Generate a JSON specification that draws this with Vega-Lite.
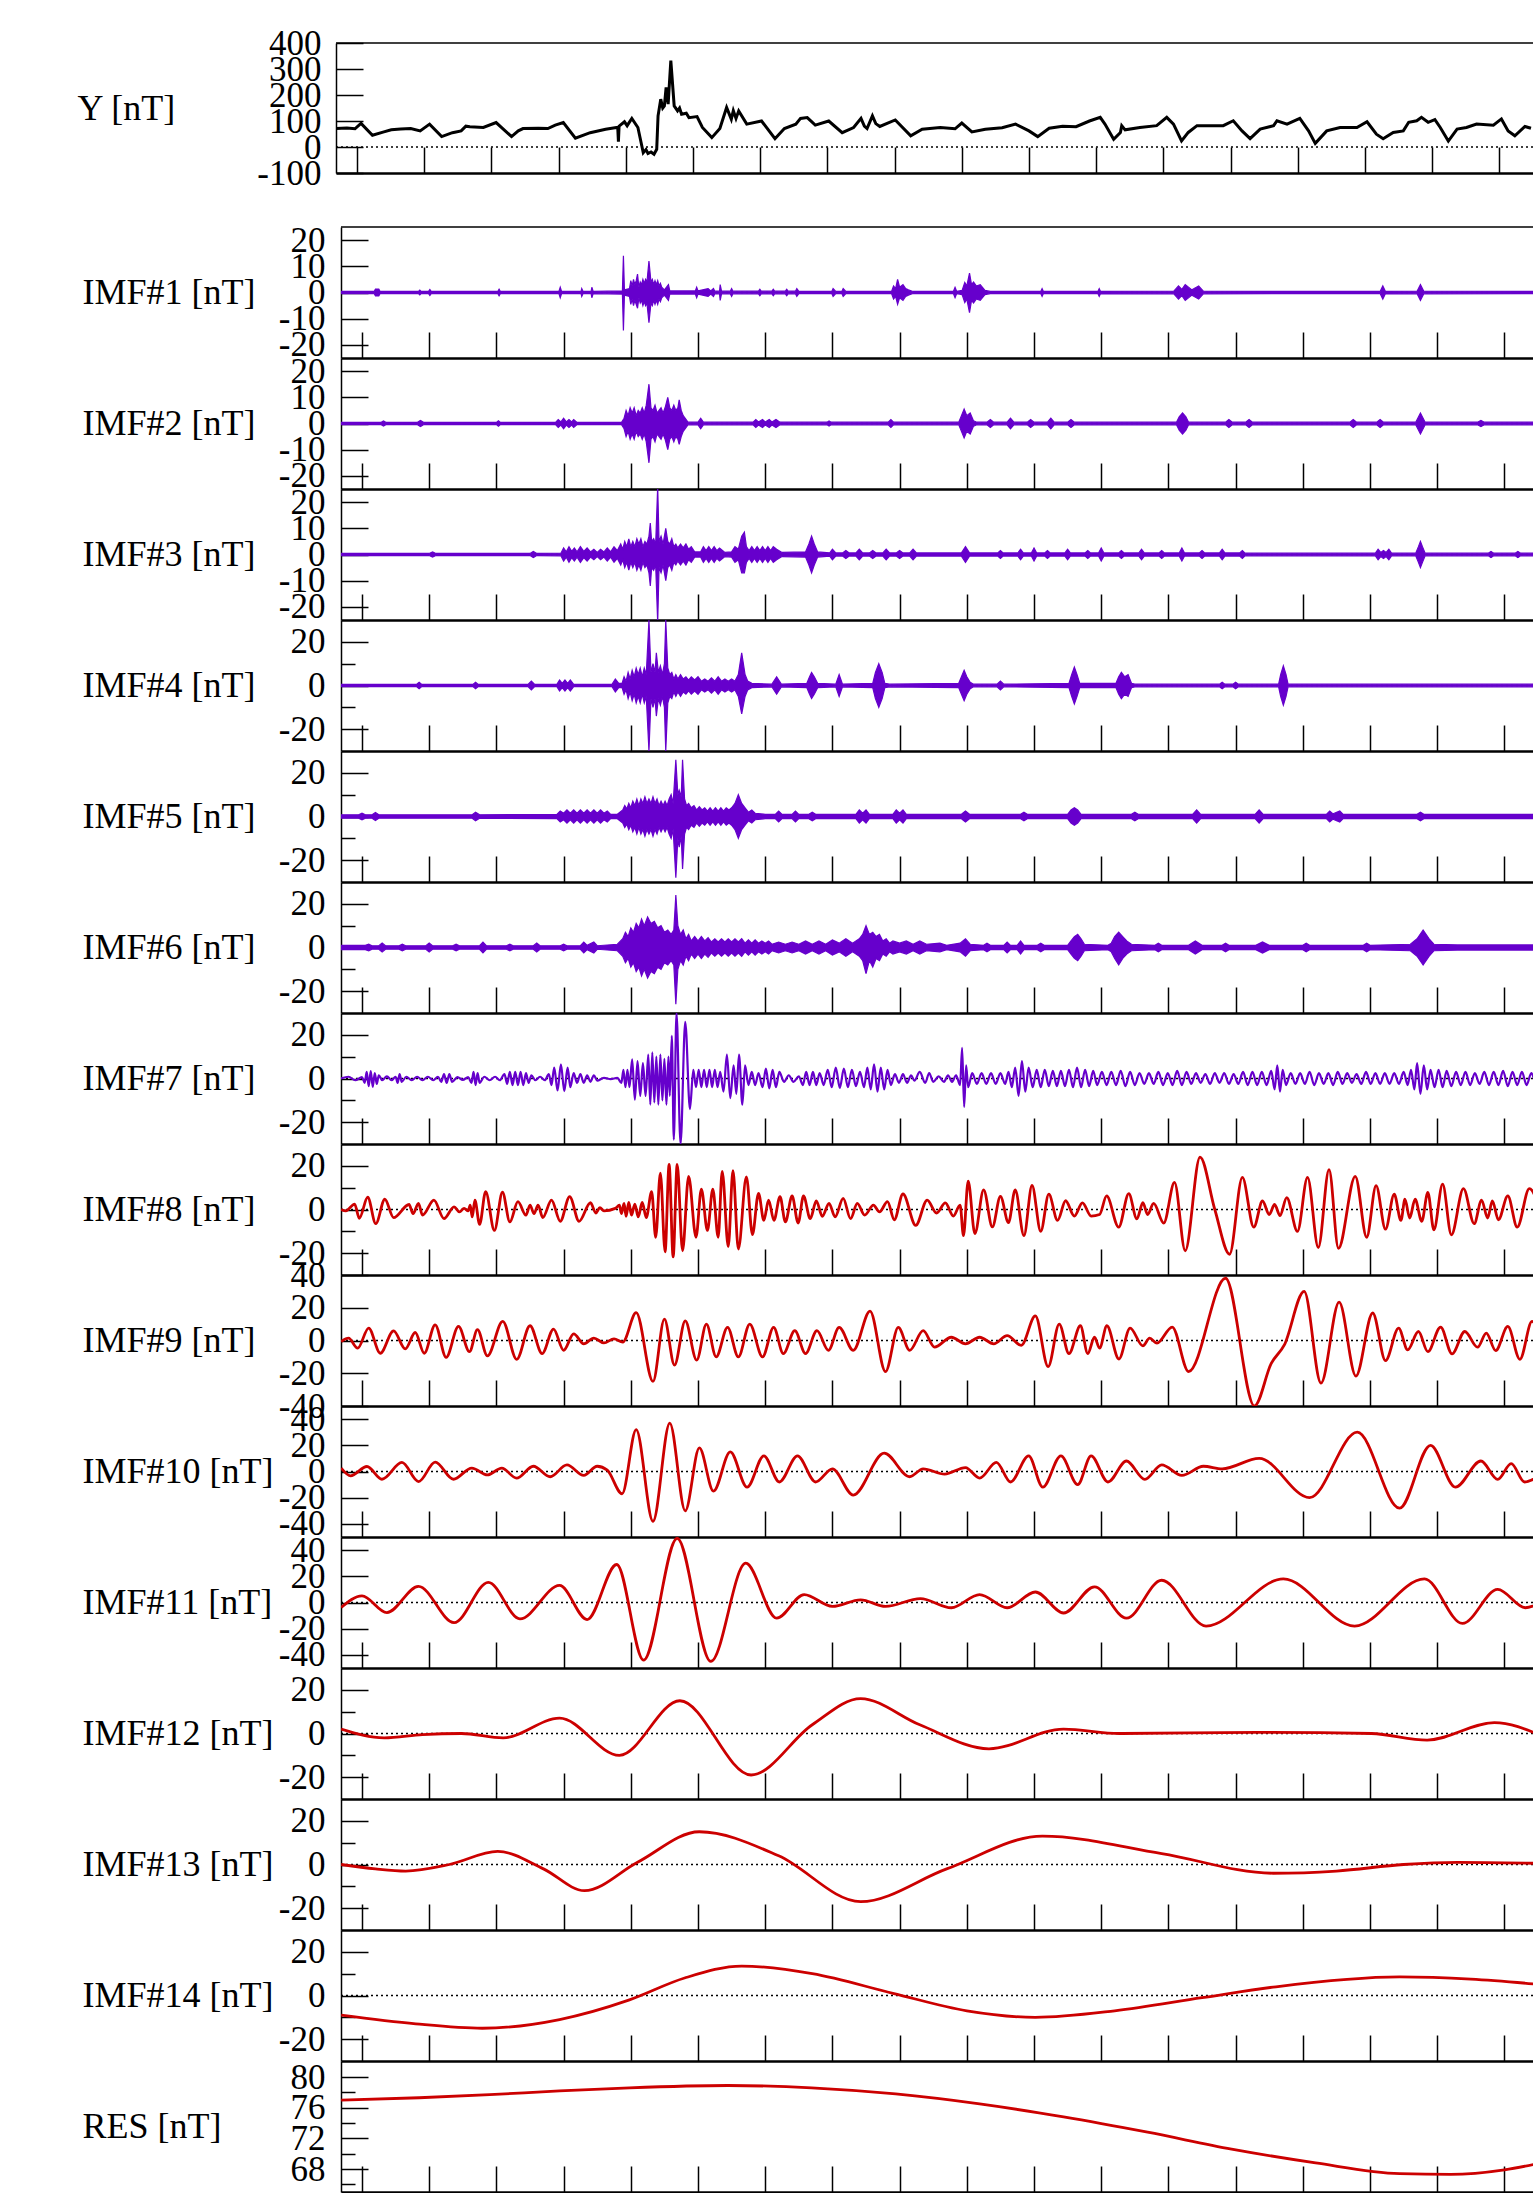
{
"$schema":"https://vega.github.io/schema/vega-lite/v6.json",
"padding":{"left":77,"top":26,"right":0,"bottom":0},
"background":"white",
"config":{
 "view":{"stroke":null},
 "axis":{"labelFont":"Liberation Serif","titleFont":"Liberation Serif","labelFontSize":35,"titleFontSize":36,"titleFontWeight":"normal","labelColor":"#000","titleColor":"#000","domainColor":"#000","tickColor":"#000","domainWidth":1.5,"tickWidth":1.5,"grid":false,"labelOverlap":false,"titleAngle":0,"titleAlign":"left","titleBaseline":"middle","titlePadding":0,"labelExpr":"replace(datum.label,'−','-')"}
},
"align":"none",
"spacing":32,
"vconcat":[
{"width":1192,"height":130,
 "layer":[
  {"data":{"values":[{}]},"mark":{"type":"rule","strokeDash":[2,3],"strokeWidth":1.5,"color":"#000"},"encoding":{"x":{"datum":-0.3125,"type":"quantitative","axis":{"orient":"bottom","values":[0,1,2,3,4,5,6,7,8,9,10,11,12,13,14,15,16,17],"tickSize":-26,"labels":false,"title":null,"domainWidth":2.5}},"x2":{"datum":17.5},"y":{"datum":0,"type":"quantitative","scale":{"domain":[-100,400],"nice":false,"zero":false},"axis":null}}},
  {"data":{"values":[{}]},"mark":{"type":"rule","strokeWidth":1.5,"color":"#000"},"encoding":{"x":{"datum":-0.3125,"type":"quantitative","axis":{"orient":"bottom","values":[0,1,2,3,4,5,6,7,8,9,10,11,12,13,14,15,16,17],"tickSize":-26,"labels":false,"title":null,"domainWidth":2.5}},"x2":{"datum":17.5},"y":{"datum":400,"type":"quantitative","scale":{"domain":[-100,400],"nice":false,"zero":false},"axis":null}}},
  {"data":{"name":"y"},"mark":{"type":"line","color":"#000","strokeWidth":3},"encoding":{
    "x":{"field":"t","type":"quantitative","scale":{"domain":[-0.3125,17.5],"range":[-5,1192],"nice":false,"zero":false},"axis":{"orient":"bottom","values":[0,1,2,3,4,5,6,7,8,9,10,11,12,13,14,15,16,17],"tickSize":-26,"labels":false,"title":null,"domainWidth":2.5}},
    "y":{"field":"v","type":"quantitative","scale":{"domain":[-100,400],"nice":false,"zero":false},"axis":{"orient":"left","offset":5,"values":[400,300,200,100,0,-100],"tickSize":-27,"labelPadding":42,"title":"Y [nT]","titleX":-259,"titleY":65}}}}
 ],
 "resolve":{"axis":{"y":"independent"}}
},
{"bounds":"flush","spacing":0,"vconcat":[
 {"width":1192,"height":131,"layer":[
  {"data":{"values":[{}]},"mark":{"type":"rule","strokeDash":[2,3],"strokeWidth":1.5,"color":"#000"},"encoding":{"y":{"datum":0,"type":"quantitative","scale":{"domain":[-25,25],"nice":false,"zero":false},"axis":null}}},
  {"data":{"values":[{}]},"mark":{"type":"rule","strokeWidth":1.5,"color":"#000"},"encoding":{"y":{"datum":25,"type":"quantitative","scale":{"domain":[-25,25],"nice":false,"zero":false},"axis":null}}},
  {"data":{"name":"imf1"},"mark":{"type":"area","color":"#6600CC","stroke":"#6600CC","strokeWidth":1.2,"fillOpacity":1,"clip":true},"encoding":{
    "x":{"field":"t","type":"quantitative","scale":{"domain":[-0.3125,17.425],"nice":false,"zero":false},"axis":{"orient":"bottom","values":[0,1,2,3,4,5,6,7,8,9,10,11,12,13,14,15,16,17],"tickSize":-26,"labels":false,"title":null,"domainWidth":2.5}},
    "y":{"field":"hi","type":"quantitative","scale":{"domain":[-25,25],"nice":false,"zero":false},"axis":{"orient":"left","values":[20,10,0,-10,-20],"tickSize":-27,"labelPadding":43,"title":"IMF#1 [nT]","titleX":-259,"titleY":65.5}},
    "y2":{"field":"lo"}}}
 ],"resolve":{"axis":{"y":"independent"}}},
 {"width":1192,"height":131,"layer":[
  {"data":{"values":[{}]},"mark":{"type":"rule","strokeDash":[2,3],"strokeWidth":1.5,"color":"#000"},"encoding":{"y":{"datum":0,"type":"quantitative","scale":{"domain":[-25,25],"nice":false,"zero":false},"axis":null}}},
  {"data":{"name":"imf2"},"mark":{"type":"area","color":"#6600CC","stroke":"#6600CC","strokeWidth":1.2,"fillOpacity":1,"clip":true},"encoding":{
    "x":{"field":"t","type":"quantitative","scale":{"domain":[-0.3125,17.425],"nice":false,"zero":false},"axis":{"orient":"bottom","values":[0,1,2,3,4,5,6,7,8,9,10,11,12,13,14,15,16,17],"tickSize":-26,"labels":false,"title":null,"domainWidth":2.5}},
    "y":{"field":"hi","type":"quantitative","scale":{"domain":[-25,25],"nice":false,"zero":false},"axis":{"orient":"left","values":[20,10,0,-10,-20],"tickSize":-27,"labelPadding":43,"title":"IMF#2 [nT]","titleX":-259,"titleY":65.5}},
    "y2":{"field":"lo"}}}
 ],"resolve":{"axis":{"y":"independent"}}},
 {"width":1192,"height":131,"layer":[
  {"data":{"values":[{}]},"mark":{"type":"rule","strokeDash":[2,3],"strokeWidth":1.5,"color":"#000"},"encoding":{"y":{"datum":0,"type":"quantitative","scale":{"domain":[-25,25],"nice":false,"zero":false},"axis":null}}},
  {"data":{"name":"imf3"},"mark":{"type":"area","color":"#6600CC","stroke":"#6600CC","strokeWidth":1.2,"fillOpacity":1,"clip":true},"encoding":{
    "x":{"field":"t","type":"quantitative","scale":{"domain":[-0.3125,17.425],"nice":false,"zero":false},"axis":{"orient":"bottom","values":[0,1,2,3,4,5,6,7,8,9,10,11,12,13,14,15,16,17],"tickSize":-26,"labels":false,"title":null,"domainWidth":2.5}},
    "y":{"field":"hi","type":"quantitative","scale":{"domain":[-25,25],"nice":false,"zero":false},"axis":{"orient":"left","values":[20,10,0,-10,-20],"tickSize":-27,"labelPadding":43,"title":"IMF#3 [nT]","titleX":-259,"titleY":65.5}},
    "y2":{"field":"lo"}}}
 ],"resolve":{"axis":{"y":"independent"}}},
 {"width":1192,"height":131,"layer":[
  {"data":{"values":[{}]},"mark":{"type":"rule","strokeDash":[2,3],"strokeWidth":1.5,"color":"#000"},"encoding":{"y":{"datum":0,"type":"quantitative","scale":{"domain":[-30,30],"nice":false,"zero":false},"axis":{"orient":"left","values":[10,-10],"tickSize":-14,"labels":false,"domain":false,"title":null}}}},
  {"data":{"name":"imf4"},"mark":{"type":"area","color":"#6600CC","stroke":"#6600CC","strokeWidth":1.2,"fillOpacity":1,"clip":true},"encoding":{
    "x":{"field":"t","type":"quantitative","scale":{"domain":[-0.3125,17.425],"nice":false,"zero":false},"axis":{"orient":"bottom","values":[0,1,2,3,4,5,6,7,8,9,10,11,12,13,14,15,16,17],"tickSize":-26,"labels":false,"title":null,"domainWidth":2.5}},
    "y":{"field":"hi","type":"quantitative","scale":{"domain":[-30,30],"nice":false,"zero":false},"axis":{"orient":"left","values":[20,0,-20],"tickSize":-27,"labelPadding":43,"title":"IMF#4 [nT]","titleX":-259,"titleY":65.5}},
    "y2":{"field":"lo"}}}
 ],"resolve":{"axis":{"y":"independent"}}},
 {"width":1192,"height":131,"layer":[
  {"data":{"values":[{}]},"mark":{"type":"rule","strokeDash":[2,3],"strokeWidth":1.5,"color":"#000"},"encoding":{"y":{"datum":0,"type":"quantitative","scale":{"domain":[-30,30],"nice":false,"zero":false},"axis":{"orient":"left","values":[10,-10],"tickSize":-14,"labels":false,"domain":false,"title":null}}}},
  {"data":{"name":"imf5"},"mark":{"type":"area","color":"#6600CC","stroke":"#6600CC","strokeWidth":1.2,"fillOpacity":1,"clip":true},"encoding":{
    "x":{"field":"t","type":"quantitative","scale":{"domain":[-0.3125,17.425],"nice":false,"zero":false},"axis":{"orient":"bottom","values":[0,1,2,3,4,5,6,7,8,9,10,11,12,13,14,15,16,17],"tickSize":-26,"labels":false,"title":null,"domainWidth":2.5}},
    "y":{"field":"hi","type":"quantitative","scale":{"domain":[-30,30],"nice":false,"zero":false},"axis":{"orient":"left","values":[20,0,-20],"tickSize":-27,"labelPadding":43,"title":"IMF#5 [nT]","titleX":-259,"titleY":65.5}},
    "y2":{"field":"lo"}}}
 ],"resolve":{"axis":{"y":"independent"}}},
 {"width":1192,"height":131,"layer":[
  {"data":{"values":[{}]},"mark":{"type":"rule","strokeDash":[2,3],"strokeWidth":1.5,"color":"#000"},"encoding":{"y":{"datum":0,"type":"quantitative","scale":{"domain":[-30,30],"nice":false,"zero":false},"axis":{"orient":"left","values":[10,-10],"tickSize":-14,"labels":false,"domain":false,"title":null}}}},
  {"data":{"name":"imf6"},"mark":{"type":"area","color":"#6600CC","stroke":"#6600CC","strokeWidth":1.2,"fillOpacity":1,"clip":true},"encoding":{
    "x":{"field":"t","type":"quantitative","scale":{"domain":[-0.3125,17.425],"nice":false,"zero":false},"axis":{"orient":"bottom","values":[0,1,2,3,4,5,6,7,8,9,10,11,12,13,14,15,16,17],"tickSize":-26,"labels":false,"title":null,"domainWidth":2.5}},
    "y":{"field":"hi","type":"quantitative","scale":{"domain":[-30,30],"nice":false,"zero":false},"axis":{"orient":"left","values":[20,0,-20],"tickSize":-27,"labelPadding":43,"title":"IMF#6 [nT]","titleX":-259,"titleY":65.5}},
    "y2":{"field":"lo"}}}
 ],"resolve":{"axis":{"y":"independent"}}},
 {"width":1192,"height":131,"layer":[
  {"data":{"values":[{}]},"mark":{"type":"rule","strokeDash":[2,3],"strokeWidth":1.5,"color":"#000"},"encoding":{"y":{"datum":0,"type":"quantitative","scale":{"domain":[-30,30],"nice":false,"zero":false},"axis":{"orient":"left","values":[10,-10],"tickSize":-14,"labels":false,"domain":false,"title":null}}}},
  {"data":{"name":"imf7"},"mark":{"type":"line","color":"#6600CC","strokeWidth":2.2,"interpolate":"monotone","clip":true},"encoding":{
    "x":{"field":"t","type":"quantitative","scale":{"domain":[-0.3125,17.425],"nice":false,"zero":false},"axis":{"orient":"bottom","values":[0,1,2,3,4,5,6,7,8,9,10,11,12,13,14,15,16,17],"tickSize":-26,"labels":false,"title":null,"domainWidth":2.5}},
    "y":{"field":"v","type":"quantitative","scale":{"domain":[-30,30],"nice":false,"zero":false},"axis":{"orient":"left","values":[20,0,-20],"tickSize":-27,"labelPadding":43,"title":"IMF#7 [nT]","titleX":-259,"titleY":65.5}}}}
 ],"resolve":{"axis":{"y":"independent"}}},
 {"width":1192,"height":131,"layer":[
  {"data":{"values":[{}]},"mark":{"type":"rule","strokeDash":[2,3],"strokeWidth":1.5,"color":"#000"},"encoding":{"y":{"datum":0,"type":"quantitative","scale":{"domain":[-30,30],"nice":false,"zero":false},"axis":{"orient":"left","values":[10,-10],"tickSize":-14,"labels":false,"domain":false,"title":null}}}},
  {"data":{"name":"imf8"},"mark":{"type":"line","color":"#CC0000","strokeWidth":2.8,"interpolate":"monotone","clip":true},"encoding":{
    "x":{"field":"t","type":"quantitative","scale":{"domain":[-0.3125,17.425],"nice":false,"zero":false},"axis":{"orient":"bottom","values":[0,1,2,3,4,5,6,7,8,9,10,11,12,13,14,15,16,17],"tickSize":-26,"labels":false,"title":null,"domainWidth":2.5}},
    "y":{"field":"v","type":"quantitative","scale":{"domain":[-30,30],"nice":false,"zero":false},"axis":{"orient":"left","values":[20,0,-20],"tickSize":-27,"labelPadding":43,"title":"IMF#8 [nT]","titleX":-259,"titleY":65.5}}}}
 ],"resolve":{"axis":{"y":"independent"}}},
 {"width":1192,"height":131,"layer":[
  {"data":{"values":[{}]},"mark":{"type":"rule","strokeDash":[2,3],"strokeWidth":1.5,"color":"#000"},"encoding":{"y":{"datum":0,"type":"quantitative","scale":{"domain":[-40,40],"nice":false,"zero":false},"axis":null}}},
  {"data":{"name":"imf9"},"mark":{"type":"line","color":"#CC0000","strokeWidth":2.8,"interpolate":"monotone","clip":true},"encoding":{
    "x":{"field":"t","type":"quantitative","scale":{"domain":[-0.3125,17.425],"nice":false,"zero":false},"axis":{"orient":"bottom","values":[0,1,2,3,4,5,6,7,8,9,10,11,12,13,14,15,16,17],"tickSize":-26,"labels":false,"title":null,"domainWidth":2.5}},
    "y":{"field":"v","type":"quantitative","scale":{"domain":[-40,40],"nice":false,"zero":false},"axis":{"orient":"left","values":[40,20,0,-20,-40],"tickSize":-27,"labelPadding":43,"title":"IMF#9 [nT]","titleX":-259,"titleY":65.5}}}}
 ],"resolve":{"axis":{"y":"independent"}}},
 {"width":1192,"height":131,"layer":[
  {"data":{"values":[{}]},"mark":{"type":"rule","strokeDash":[2,3],"strokeWidth":1.5,"color":"#000"},"encoding":{"y":{"datum":0,"type":"quantitative","scale":{"domain":[-50,50],"nice":false,"zero":false},"axis":null}}},
  {"data":{"name":"imf10"},"mark":{"type":"line","color":"#CC0000","strokeWidth":2.8,"interpolate":"monotone","clip":true},"encoding":{
    "x":{"field":"t","type":"quantitative","scale":{"domain":[-0.3125,17.425],"nice":false,"zero":false},"axis":{"orient":"bottom","values":[0,1,2,3,4,5,6,7,8,9,10,11,12,13,14,15,16,17],"tickSize":-26,"labels":false,"title":null,"domainWidth":2.5}},
    "y":{"field":"v","type":"quantitative","scale":{"domain":[-50,50],"nice":false,"zero":false},"axis":{"orient":"left","values":[40,20,0,-20,-40],"tickSize":-27,"labelPadding":43,"title":"IMF#10 [nT]","titleX":-259,"titleY":65.5}}}}
 ],"resolve":{"axis":{"y":"independent"}}},
 {"width":1192,"height":131,"layer":[
  {"data":{"values":[{}]},"mark":{"type":"rule","strokeDash":[2,3],"strokeWidth":1.5,"color":"#000"},"encoding":{"y":{"datum":0,"type":"quantitative","scale":{"domain":[-50,50],"nice":false,"zero":false},"axis":null}}},
  {"data":{"name":"imf11"},"mark":{"type":"line","color":"#CC0000","strokeWidth":2.8,"interpolate":"monotone","clip":true},"encoding":{
    "x":{"field":"t","type":"quantitative","scale":{"domain":[-0.3125,17.425],"nice":false,"zero":false},"axis":{"orient":"bottom","values":[0,1,2,3,4,5,6,7,8,9,10,11,12,13,14,15,16,17],"tickSize":-26,"labels":false,"title":null,"domainWidth":2.5}},
    "y":{"field":"v","type":"quantitative","scale":{"domain":[-50,50],"nice":false,"zero":false},"axis":{"orient":"left","values":[40,20,0,-20,-40],"tickSize":-27,"labelPadding":43,"title":"IMF#11 [nT]","titleX":-259,"titleY":65.5}}}}
 ],"resolve":{"axis":{"y":"independent"}}},
 {"width":1192,"height":131,"layer":[
  {"data":{"values":[{}]},"mark":{"type":"rule","strokeDash":[2,3],"strokeWidth":1.5,"color":"#000"},"encoding":{"y":{"datum":0,"type":"quantitative","scale":{"domain":[-30,30],"nice":false,"zero":false},"axis":{"orient":"left","values":[10,-10],"tickSize":-14,"labels":false,"domain":false,"title":null}}}},
  {"data":{"name":"imf12"},"mark":{"type":"line","color":"#CC0000","strokeWidth":2.8,"interpolate":"monotone","clip":true},"encoding":{
    "x":{"field":"t","type":"quantitative","scale":{"domain":[-0.3125,17.425],"nice":false,"zero":false},"axis":{"orient":"bottom","values":[0,1,2,3,4,5,6,7,8,9,10,11,12,13,14,15,16,17],"tickSize":-26,"labels":false,"title":null,"domainWidth":2.5}},
    "y":{"field":"v","type":"quantitative","scale":{"domain":[-30,30],"nice":false,"zero":false},"axis":{"orient":"left","values":[20,0,-20],"tickSize":-27,"labelPadding":43,"title":"IMF#12 [nT]","titleX":-259,"titleY":65.5}}}}
 ],"resolve":{"axis":{"y":"independent"}}},
 {"width":1192,"height":131,"layer":[
  {"data":{"values":[{}]},"mark":{"type":"rule","strokeDash":[2,3],"strokeWidth":1.5,"color":"#000"},"encoding":{"y":{"datum":0,"type":"quantitative","scale":{"domain":[-30,30],"nice":false,"zero":false},"axis":{"orient":"left","values":[10,-10],"tickSize":-14,"labels":false,"domain":false,"title":null}}}},
  {"data":{"name":"imf13"},"mark":{"type":"line","color":"#CC0000","strokeWidth":2.8,"interpolate":"monotone","clip":true},"encoding":{
    "x":{"field":"t","type":"quantitative","scale":{"domain":[-0.3125,17.425],"nice":false,"zero":false},"axis":{"orient":"bottom","values":[0,1,2,3,4,5,6,7,8,9,10,11,12,13,14,15,16,17],"tickSize":-26,"labels":false,"title":null,"domainWidth":2.5}},
    "y":{"field":"v","type":"quantitative","scale":{"domain":[-30,30],"nice":false,"zero":false},"axis":{"orient":"left","values":[20,0,-20],"tickSize":-27,"labelPadding":43,"title":"IMF#13 [nT]","titleX":-259,"titleY":65.5}}}}
 ],"resolve":{"axis":{"y":"independent"}}},
 {"width":1192,"height":131,"layer":[
  {"data":{"values":[{}]},"mark":{"type":"rule","strokeDash":[2,3],"strokeWidth":1.5,"color":"#000"},"encoding":{"y":{"datum":0,"type":"quantitative","scale":{"domain":[-30,30],"nice":false,"zero":false},"axis":{"orient":"left","values":[10,-10],"tickSize":-14,"labels":false,"domain":false,"title":null}}}},
  {"data":{"name":"imf14"},"mark":{"type":"line","color":"#CC0000","strokeWidth":2.8,"interpolate":"monotone","clip":true},"encoding":{
    "x":{"field":"t","type":"quantitative","scale":{"domain":[-0.3125,17.425],"nice":false,"zero":false},"axis":{"orient":"bottom","values":[0,1,2,3,4,5,6,7,8,9,10,11,12,13,14,15,16,17],"tickSize":-26,"labels":false,"title":null,"domainWidth":2.5}},
    "y":{"field":"v","type":"quantitative","scale":{"domain":[-30,30],"nice":false,"zero":false},"axis":{"orient":"left","values":[20,0,-20],"tickSize":-27,"labelPadding":43,"title":"IMF#14 [nT]","titleX":-259,"titleY":65.5}}}}
 ],"resolve":{"axis":{"y":"independent"}}},
 {"width":1192,"height":131,"layer":[
  {"data":{"values":[{}]},"mark":{"type":"rule","strokeOpacity":0},"encoding":{"y":{"datum":66,"type":"quantitative","scale":{"domain":[65,82.1],"nice":false,"zero":false},"axis":{"orient":"left","values":[78,74,70,66],"tickSize":-14,"labels":false,"domain":false,"title":null}}}},
  {"data":{"name":"res"},"mark":{"type":"line","color":"#CC0000","strokeWidth":2.8,"interpolate":"monotone","clip":true},"encoding":{
    "x":{"field":"t","type":"quantitative","scale":{"domain":[-0.3125,17.425],"nice":false,"zero":false},"axis":{"orient":"bottom","values":[0,1,2,3,4,5,6,7,8,9,10,11,12,13,14,15,16,17],"tickSize":-26,"labels":false,"title":null,"domainWidth":2.5}},
    "y":{"field":"v","type":"quantitative","scale":{"domain":[65,82.1],"nice":false,"zero":false},"axis":{"orient":"left","values":[80,76,72,68],"tickSize":-27,"labelPadding":43,"title":"RES [nT]","titleX":-259,"titleY":65.5}}}}
 ],"resolve":{"axis":{"y":"independent"}}}
]}
],
"datasets":{
"y":[{"t":-0.31,"v":71},{"t":-0.15,"v":73},{"t":-0.03,"v":70},{"t":0.06,"v":91},{"t":0.23,"v":45},{"t":0.4,"v":58},{"t":0.51,"v":66},{"t":0.65,"v":69},{"t":0.8,"v":71},{"t":0.94,"v":62},{"t":1.08,"v":88},{"t":1.26,"v":40},{"t":1.42,"v":55},{"t":1.55,"v":62},{"t":1.62,"v":80},{"t":1.68,"v":78},{"t":1.88,"v":75},{"t":2.07,"v":94},{"t":2.3,"v":40},{"t":2.4,"v":62},{"t":2.47,"v":71},{"t":2.7,"v":72},{"t":2.84,"v":71},{"t":2.95,"v":84},{"t":3.07,"v":94},{"t":3.25,"v":34},{"t":3.47,"v":55},{"t":3.7,"v":68},{"t":3.86,"v":75},{"t":3.88,"v":75},{"t":3.89,"v":20},{"t":3.9,"v":80},{"t":3.98,"v":97},{"t":4.02,"v":82},{"t":4.09,"v":110},{"t":4.18,"v":75},{"t":4.26,"v":-22},{"t":4.3,"v":-10},{"t":4.33,"v":-25},{"t":4.375,"v":-19},{"t":4.42,"v":-28},{"t":4.46,"v":-9},{"t":4.48,"v":120},{"t":4.52,"v":184},{"t":4.55,"v":150},{"t":4.574,"v":158},{"t":4.6,"v":229},{"t":4.63,"v":165},{"t":4.67,"v":332},{"t":4.72,"v":158},{"t":4.77,"v":139},{"t":4.8,"v":150},{"t":4.83,"v":126},{"t":4.9,"v":130},{"t":4.94,"v":113},{"t":5.06,"v":117},{"t":5.14,"v":75},{"t":5.28,"v":36},{"t":5.4,"v":71},{"t":5.5,"v":152},{"t":5.57,"v":107},{"t":5.6,"v":140},{"t":5.64,"v":110},{"t":5.68,"v":139},{"t":5.8,"v":88},{"t":6.02,"v":100},{"t":6.22,"v":32},{"t":6.36,"v":71},{"t":6.53,"v":88},{"t":6.6,"v":110},{"t":6.7,"v":113},{"t":6.82,"v":84},{"t":7.02,"v":100},{"t":7.22,"v":55},{"t":7.39,"v":75},{"t":7.5,"v":110},{"t":7.55,"v":80},{"t":7.59,"v":71},{"t":7.67,"v":120},{"t":7.72,"v":90},{"t":7.78,"v":79},{"t":8.01,"v":104},{"t":8.24,"v":43},{"t":8.41,"v":68},{"t":8.68,"v":75},{"t":8.9,"v":70},{"t":9.0,"v":92},{"t":9.15,"v":58},{"t":9.35,"v":68},{"t":9.6,"v":74},{"t":9.8,"v":88},{"t":10.0,"v":62},{"t":10.13,"v":40},{"t":10.3,"v":72},{"t":10.5,"v":80},{"t":10.7,"v":78},{"t":10.9,"v":100},{"t":11.06,"v":114},{"t":11.13,"v":88},{"t":11.26,"v":30},{"t":11.36,"v":56},{"t":11.38,"v":82},{"t":11.43,"v":66},{"t":11.65,"v":75},{"t":11.9,"v":82},{"t":12.05,"v":114},{"t":12.15,"v":88},{"t":12.27,"v":23},{"t":12.37,"v":56},{"t":12.5,"v":82},{"t":12.89,"v":82},{"t":13.04,"v":101},{"t":13.17,"v":62},{"t":13.29,"v":32},{"t":13.44,"v":69},{"t":13.64,"v":82},{"t":13.69,"v":101},{"t":13.84,"v":88},{"t":14.03,"v":110},{"t":14.16,"v":62},{"t":14.26,"v":14},{"t":14.43,"v":62},{"t":14.63,"v":75},{"t":14.88,"v":75},{"t":15.03,"v":97},{"t":15.17,"v":49},{"t":15.27,"v":32},{"t":15.42,"v":56},{"t":15.57,"v":62},{"t":15.65,"v":95},{"t":15.77,"v":101},{"t":15.84,"v":114},{"t":15.94,"v":95},{"t":16.04,"v":105},{"t":16.12,"v":75},{"t":16.24,"v":23},{"t":16.37,"v":69},{"t":16.51,"v":75},{"t":16.66,"v":88},{"t":16.91,"v":84},{"t":17.03,"v":108},{"t":17.13,"v":62},{"t":17.23,"v":43},{"t":17.38,"v":79},{"t":17.47,"v":72}],
"imf1":[{"t":-0.32,"hi":0.4,"lo":-0.4},{"t":0.18,"hi":0.4,"lo":-0.4},{"t":0.2,"hi":1.3,"lo":-1.3},{"t":0.25,"hi":1.3,"lo":-1.3},{"t":0.27,"hi":0.4,"lo":-0.4},{"t":0.84,"hi":0.4,"lo":-0.4},{"t":0.86,"hi":0.9,"lo":-0.9},{"t":0.88,"hi":0.4,"lo":-0.4},{"t":0.99,"hi":0.4,"lo":-0.4},{"t":1.01,"hi":1.1,"lo":-1.1},{"t":1.03,"hi":0.4,"lo":-0.4},{"t":2.02,"hi":0.4,"lo":-0.4},{"t":2.04,"hi":1.3,"lo":-1.3},{"t":2.06,"hi":0.4,"lo":-0.4},{"t":2.93,"hi":0.4,"lo":-0.4},{"t":2.95,"hi":2,"lo":-2},{"t":2.97,"hi":0.4,"lo":-0.4},{"t":3.26,"hi":0.4,"lo":-0.4},{"t":3.27,"hi":1.5,"lo":-1.5},{"t":3.29,"hi":0.4,"lo":-0.4},{"t":3.41,"hi":0.4,"lo":-0.4},{"t":3.42,"hi":2,"lo":-2},{"t":3.44,"hi":0.4,"lo":-0.4},{"t":3.875,"hi":0.6,"lo":-0.6},{"t":3.89,"hi":14,"lo":-14.5},{"t":3.905,"hi":1,"lo":-1},{"t":3.98,"hi":1.5,"lo":-1.5},{"t":4.0,"hi":4.5,"lo":-4.5},{"t":4.02,"hi":2.5,"lo":-2.5},{"t":4.04,"hi":5,"lo":-5},{"t":4.06,"hi":3,"lo":-3},{"t":4.08,"hi":4.5,"lo":-4.5},{"t":4.1,"hi":7,"lo":-6},{"t":4.12,"hi":2,"lo":-2},{"t":4.14,"hi":4,"lo":-4},{"t":4.16,"hi":3,"lo":-3},{"t":4.18,"hi":5,"lo":-5},{"t":4.2,"hi":3.5,"lo":-3.5},{"t":4.22,"hi":5,"lo":-5},{"t":4.24,"hi":4,"lo":-4},{"t":4.27,"hi":12,"lo":-11.5},{"t":4.3,"hi":4,"lo":-4},{"t":4.32,"hi":5,"lo":-5},{"t":4.34,"hi":3,"lo":-3},{"t":4.36,"hi":4.5,"lo":-4.5},{"t":4.38,"hi":3,"lo":-3},{"t":4.4,"hi":4.5,"lo":-4.5},{"t":4.42,"hi":2.5,"lo":-2.5},{"t":4.44,"hi":3.5,"lo":-3.5},{"t":4.46,"hi":2,"lo":-2},{"t":4.5,"hi":1,"lo":-1},{"t":4.56,"hi":3,"lo":-3},{"t":4.58,"hi":0.6,"lo":-0.6},{"t":4.96,"hi":0.6,"lo":-0.6},{"t":4.98,"hi":2,"lo":-2},{"t":5.0,"hi":0.6,"lo":-0.6},{"t":5.15,"hi":1.5,"lo":-1.5},{"t":5.19,"hi":0.6,"lo":-0.6},{"t":5.23,"hi":1.5,"lo":-1.5},{"t":5.25,"hi":0.5,"lo":-0.5},{"t":5.32,"hi":0.5,"lo":-0.5},{"t":5.33,"hi":3,"lo":-3},{"t":5.35,"hi":0.5,"lo":-0.5},{"t":5.48,"hi":0.5,"lo":-0.5},{"t":5.5,"hi":1.5,"lo":-1.5},{"t":5.52,"hi":0.5,"lo":-0.5},{"t":5.9,"hi":0.5,"lo":-0.5},{"t":5.92,"hi":1.2,"lo":-1.2},{"t":5.94,"hi":0.5,"lo":-0.5},{"t":6.1,"hi":0.5,"lo":-0.5},{"t":6.12,"hi":1.2,"lo":-1.2},{"t":6.14,"hi":0.5,"lo":-0.5},{"t":6.3,"hi":0.5,"lo":-0.5},{"t":6.32,"hi":1.2,"lo":-1.2},{"t":6.34,"hi":0.5,"lo":-0.5},{"t":6.45,"hi":0.5,"lo":-0.5},{"t":6.47,"hi":1.5,"lo":-1.5},{"t":6.5,"hi":0.4,"lo":-0.4},{"t":6.99,"hi":0.4,"lo":-0.4},{"t":7.01,"hi":1.5,"lo":-1.5},{"t":7.05,"hi":0.4,"lo":-0.4},{"t":7.14,"hi":0.4,"lo":-0.4},{"t":7.16,"hi":1.5,"lo":-1.5},{"t":7.2,"hi":0.4,"lo":-0.4},{"t":7.88,"hi":0.4,"lo":-0.4},{"t":7.91,"hi":2.5,"lo":-2.5},{"t":7.94,"hi":1.5,"lo":-1.5},{"t":7.97,"hi":5,"lo":-4.5},{"t":8.0,"hi":2,"lo":-2},{"t":8.05,"hi":3,"lo":-3},{"t":8.09,"hi":1.5,"lo":-1.5},{"t":8.13,"hi":1,"lo":-1},{"t":8.2,"hi":0.4,"lo":-0.4},{"t":8.8,"hi":0.4,"lo":-0.4},{"t":8.825,"hi":2,"lo":-2},{"t":8.85,"hi":0.4,"lo":-0.4},{"t":8.93,"hi":0.8,"lo":-0.8},{"t":8.97,"hi":3.8,"lo":-3.8},{"t":9.0,"hi":2.5,"lo":-2.5},{"t":9.04,"hi":7.4,"lo":-7.7},{"t":9.07,"hi":3,"lo":-3},{"t":9.1,"hi":4,"lo":-4},{"t":9.14,"hi":2.5,"lo":-2.5},{"t":9.2,"hi":3,"lo":-3},{"t":9.27,"hi":0.8,"lo":-0.8},{"t":9.35,"hi":0.4,"lo":-0.4},{"t":10.1,"hi":0.4,"lo":-0.4},{"t":10.12,"hi":1.5,"lo":-1.5},{"t":10.14,"hi":0.4,"lo":-0.4},{"t":10.95,"hi":0.4,"lo":-0.4},{"t":10.97,"hi":1.5,"lo":-1.5},{"t":10.99,"hi":0.4,"lo":-0.4},{"t":12.08,"hi":0.5,"lo":-0.5},{"t":12.15,"hi":2.5,"lo":-2.5},{"t":12.2,"hi":1.2,"lo":-1.2},{"t":12.25,"hi":3,"lo":-3},{"t":12.35,"hi":1,"lo":-1},{"t":12.45,"hi":2.5,"lo":-2.5},{"t":12.52,"hi":0.5,"lo":-0.5},{"t":15.15,"hi":0.4,"lo":-0.4},{"t":15.19,"hi":2.5,"lo":-2.5},{"t":15.23,"hi":0.4,"lo":-0.4},{"t":15.7,"hi":0.5,"lo":-0.5},{"t":15.75,"hi":3,"lo":-3},{"t":15.8,"hi":0.5,"lo":-0.5},{"t":17.6,"hi":0.4,"lo":-0.4}],
"imf2":[{"t":-0.32,"hi":0.4,"lo":-0.4},{"t":0.28,"hi":0.4,"lo":-0.4},{"t":0.32,"hi":1,"lo":-1},{"t":0.36,"hi":0.4,"lo":-0.4},{"t":0.82,"hi":0.4,"lo":-0.4},{"t":0.87,"hi":1.2,"lo":-1.2},{"t":0.92,"hi":0.4,"lo":-0.4},{"t":2.0,"hi":0.4,"lo":-0.4},{"t":2.03,"hi":1,"lo":-1},{"t":2.06,"hi":0.4,"lo":-0.4},{"t":2.88,"hi":0.4,"lo":-0.4},{"t":2.92,"hi":1.5,"lo":-1.5},{"t":2.96,"hi":0.6,"lo":-0.6},{"t":3.0,"hi":2,"lo":-2},{"t":3.04,"hi":0.6,"lo":-0.6},{"t":3.08,"hi":1.5,"lo":-1.5},{"t":3.12,"hi":0.6,"lo":-0.6},{"t":3.15,"hi":1.5,"lo":-1.5},{"t":3.2,"hi":0.4,"lo":-0.4},{"t":3.86,"hi":0.4,"lo":-0.4},{"t":3.9,"hi":2,"lo":-2},{"t":3.93,"hi":5,"lo":-5},{"t":3.96,"hi":3,"lo":-3},{"t":3.99,"hi":6,"lo":-6},{"t":4.02,"hi":4,"lo":-4},{"t":4.05,"hi":6,"lo":-6},{"t":4.08,"hi":3,"lo":-3},{"t":4.11,"hi":5,"lo":-5},{"t":4.14,"hi":4,"lo":-4},{"t":4.17,"hi":6,"lo":-6},{"t":4.2,"hi":4,"lo":-4},{"t":4.23,"hi":7,"lo":-7},{"t":4.27,"hi":15,"lo":-15},{"t":4.3,"hi":6,"lo":-6},{"t":4.33,"hi":5,"lo":-5},{"t":4.36,"hi":7,"lo":-7},{"t":4.39,"hi":4,"lo":-4},{"t":4.42,"hi":5,"lo":-5},{"t":4.45,"hi":6,"lo":-6},{"t":4.48,"hi":4,"lo":-4},{"t":4.51,"hi":6,"lo":-6},{"t":4.55,"hi":10,"lo":-10},{"t":4.58,"hi":6,"lo":-6},{"t":4.61,"hi":5,"lo":-5},{"t":4.64,"hi":7,"lo":-7},{"t":4.67,"hi":5,"lo":-5},{"t":4.7,"hi":6,"lo":-6},{"t":4.72,"hi":9,"lo":-8},{"t":4.75,"hi":5,"lo":-5},{"t":4.78,"hi":3,"lo":-3},{"t":4.81,"hi":2,"lo":-2},{"t":4.85,"hi":0.5,"lo":-0.5},{"t":5.0,"hi":0.5,"lo":-0.5},{"t":5.04,"hi":2,"lo":-2},{"t":5.08,"hi":0.5,"lo":-0.5},{"t":5.82,"hi":0.5,"lo":-0.5},{"t":5.86,"hi":1.5,"lo":-1.5},{"t":5.9,"hi":0.6,"lo":-0.6},{"t":5.96,"hi":1.5,"lo":-1.5},{"t":6.0,"hi":0.6,"lo":-0.6},{"t":6.06,"hi":1.5,"lo":-1.5},{"t":6.1,"hi":0.6,"lo":-0.6},{"t":6.16,"hi":1.5,"lo":-1.5},{"t":6.22,"hi":0.5,"lo":-0.5},{"t":6.92,"hi":0.5,"lo":-0.5},{"t":6.95,"hi":1,"lo":-1},{"t":6.98,"hi":0.5,"lo":-0.5},{"t":7.83,"hi":0.5,"lo":-0.5},{"t":7.87,"hi":1.5,"lo":-1.5},{"t":7.91,"hi":0.5,"lo":-0.5},{"t":8.88,"hi":0.5,"lo":-0.5},{"t":8.92,"hi":3,"lo":-3},{"t":8.96,"hi":5.5,"lo":-5.5},{"t":9.0,"hi":3,"lo":-3},{"t":9.05,"hi":4,"lo":-4},{"t":9.1,"hi":1,"lo":-1},{"t":9.15,"hi":0.5,"lo":-0.5},{"t":9.3,"hi":0.5,"lo":-0.5},{"t":9.35,"hi":1.5,"lo":-1.5},{"t":9.4,"hi":0.5,"lo":-0.5},{"t":9.6,"hi":0.5,"lo":-0.5},{"t":9.65,"hi":2,"lo":-2},{"t":9.7,"hi":0.5,"lo":-0.5},{"t":9.9,"hi":0.5,"lo":-0.5},{"t":9.95,"hi":1.5,"lo":-1.5},{"t":10.0,"hi":0.5,"lo":-0.5},{"t":10.2,"hi":0.5,"lo":-0.5},{"t":10.25,"hi":2,"lo":-2},{"t":10.3,"hi":0.5,"lo":-0.5},{"t":10.5,"hi":0.5,"lo":-0.5},{"t":10.55,"hi":1.5,"lo":-1.5},{"t":10.6,"hi":0.5,"lo":-0.5},{"t":12.12,"hi":0.5,"lo":-0.5},{"t":12.16,"hi":2.5,"lo":-2.5},{"t":12.21,"hi":4,"lo":-4},{"t":12.26,"hi":2.5,"lo":-2.5},{"t":12.3,"hi":0.5,"lo":-0.5},{"t":12.85,"hi":0.5,"lo":-0.5},{"t":12.9,"hi":1.5,"lo":-1.5},{"t":12.95,"hi":0.5,"lo":-0.5},{"t":13.15,"hi":0.5,"lo":-0.5},{"t":13.2,"hi":1.5,"lo":-1.5},{"t":13.25,"hi":0.5,"lo":-0.5},{"t":14.7,"hi":0.5,"lo":-0.5},{"t":14.75,"hi":1.5,"lo":-1.5},{"t":14.8,"hi":0.5,"lo":-0.5},{"t":15.1,"hi":0.5,"lo":-0.5},{"t":15.15,"hi":1.5,"lo":-1.5},{"t":15.2,"hi":0.5,"lo":-0.5},{"t":15.68,"hi":0.5,"lo":-0.5},{"t":15.72,"hi":2.5,"lo":-2.5},{"t":15.75,"hi":4,"lo":-4},{"t":15.78,"hi":2.5,"lo":-2.5},{"t":15.82,"hi":0.5,"lo":-0.5},{"t":16.6,"hi":0.5,"lo":-0.5},{"t":16.65,"hi":1.2,"lo":-1.2},{"t":16.7,"hi":0.5,"lo":-0.5},{"t":17.6,"hi":0.5,"lo":-0.5}],
"imf3":[{"t":-0.32,"hi":0.4,"lo":-0.4},{"t":1.0,"hi":0.4,"lo":-0.4},{"t":1.05,"hi":1,"lo":-1},{"t":1.1,"hi":0.4,"lo":-0.4},{"t":2.5,"hi":0.4,"lo":-0.4},{"t":2.55,"hi":1.2,"lo":-1.2},{"t":2.6,"hi":0.4,"lo":-0.4},{"t":2.96,"hi":0.5,"lo":-0.5},{"t":3.0,"hi":2.5,"lo":-2.5},{"t":3.04,"hi":1,"lo":-1},{"t":3.08,"hi":3,"lo":-3},{"t":3.12,"hi":1.2,"lo":-1.2},{"t":3.16,"hi":2.5,"lo":-2.5},{"t":3.2,"hi":1,"lo":-1},{"t":3.25,"hi":3,"lo":-3},{"t":3.3,"hi":1.2,"lo":-1.2},{"t":3.35,"hi":2.5,"lo":-2.5},{"t":3.4,"hi":1,"lo":-1},{"t":3.45,"hi":2,"lo":-2},{"t":3.5,"hi":0.8,"lo":-0.8},{"t":3.55,"hi":2,"lo":-2},{"t":3.6,"hi":1,"lo":-1},{"t":3.65,"hi":2.5,"lo":-2.5},{"t":3.7,"hi":1,"lo":-1},{"t":3.75,"hi":3,"lo":-3},{"t":3.8,"hi":1.5,"lo":-1.5},{"t":3.85,"hi":4,"lo":-4},{"t":3.88,"hi":2,"lo":-2},{"t":3.91,"hi":5,"lo":-5},{"t":3.94,"hi":3,"lo":-3},{"t":3.97,"hi":6,"lo":-6},{"t":4.0,"hi":3,"lo":-3},{"t":4.03,"hi":5,"lo":-5},{"t":4.06,"hi":3,"lo":-3},{"t":4.09,"hi":6,"lo":-6},{"t":4.12,"hi":4,"lo":-4},{"t":4.15,"hi":6,"lo":-6},{"t":4.18,"hi":3,"lo":-3},{"t":4.21,"hi":5,"lo":-5},{"t":4.24,"hi":4,"lo":-4},{"t":4.27,"hi":7,"lo":-7},{"t":4.29,"hi":12,"lo":-12},{"t":4.31,"hi":5,"lo":-5},{"t":4.34,"hi":6,"lo":-6},{"t":4.37,"hi":4,"lo":-4},{"t":4.4,"hi":26,"lo":-26},{"t":4.42,"hi":5,"lo":-5},{"t":4.45,"hi":7,"lo":-7},{"t":4.48,"hi":4,"lo":-4},{"t":4.52,"hi":10,"lo":-10},{"t":4.55,"hi":5,"lo":-5},{"t":4.58,"hi":4,"lo":-4},{"t":4.61,"hi":6,"lo":-6},{"t":4.64,"hi":3,"lo":-3},{"t":4.67,"hi":4,"lo":-4},{"t":4.7,"hi":2.5,"lo":-2.5},{"t":4.74,"hi":4,"lo":-4},{"t":4.78,"hi":2.5,"lo":-2.5},{"t":4.82,"hi":4,"lo":-4},{"t":4.86,"hi":2,"lo":-2},{"t":4.9,"hi":3,"lo":-3},{"t":4.95,"hi":1,"lo":-1},{"t":5.04,"hi":1,"lo":-1},{"t":5.08,"hi":3,"lo":-3},{"t":5.12,"hi":1.5,"lo":-1.5},{"t":5.16,"hi":3,"lo":-3},{"t":5.2,"hi":1.5,"lo":-1.5},{"t":5.24,"hi":3,"lo":-3},{"t":5.28,"hi":1.5,"lo":-1.5},{"t":5.32,"hi":2.5,"lo":-2.5},{"t":5.4,"hi":0.8,"lo":-0.8},{"t":5.5,"hi":1,"lo":-1},{"t":5.55,"hi":3,"lo":-3},{"t":5.6,"hi":2,"lo":-2},{"t":5.65,"hi":7,"lo":-7},{"t":5.69,"hi":8.5,"lo":-7},{"t":5.72,"hi":3,"lo":-3},{"t":5.76,"hi":1.5,"lo":-1.5},{"t":5.8,"hi":3,"lo":-3},{"t":5.84,"hi":1.5,"lo":-1.5},{"t":5.88,"hi":3,"lo":-3},{"t":5.92,"hi":1.5,"lo":-1.5},{"t":5.96,"hi":3,"lo":-3},{"t":6.0,"hi":1.5,"lo":-1.5},{"t":6.04,"hi":3,"lo":-3},{"t":6.08,"hi":1.5,"lo":-1.5},{"t":6.12,"hi":3,"lo":-3},{"t":6.17,"hi":2,"lo":-2},{"t":6.25,"hi":0.8,"lo":-0.8},{"t":6.6,"hi":1,"lo":-1},{"t":6.65,"hi":4,"lo":-4},{"t":6.69,"hi":7,"lo":-7},{"t":6.73,"hi":4,"lo":-4},{"t":6.78,"hi":1,"lo":-1},{"t":6.96,"hi":0.6,"lo":-0.6},{"t":7.0,"hi":2,"lo":-2},{"t":7.05,"hi":0.6,"lo":-0.6},{"t":7.15,"hi":0.6,"lo":-0.6},{"t":7.2,"hi":1.5,"lo":-1.5},{"t":7.25,"hi":0.6,"lo":-0.6},{"t":7.35,"hi":0.6,"lo":-0.6},{"t":7.4,"hi":2,"lo":-2},{"t":7.45,"hi":0.6,"lo":-0.6},{"t":7.55,"hi":0.6,"lo":-0.6},{"t":7.6,"hi":1.5,"lo":-1.5},{"t":7.65,"hi":0.6,"lo":-0.6},{"t":7.75,"hi":0.6,"lo":-0.6},{"t":7.8,"hi":2,"lo":-2},{"t":7.85,"hi":0.6,"lo":-0.6},{"t":7.95,"hi":0.6,"lo":-0.6},{"t":8.0,"hi":1.5,"lo":-1.5},{"t":8.05,"hi":0.6,"lo":-0.6},{"t":8.15,"hi":0.6,"lo":-0.6},{"t":8.2,"hi":2,"lo":-2},{"t":8.25,"hi":0.6,"lo":-0.6},{"t":8.92,"hi":0.6,"lo":-0.6},{"t":8.98,"hi":3,"lo":-3},{"t":9.04,"hi":0.6,"lo":-0.6},{"t":9.46,"hi":0.6,"lo":-0.6},{"t":9.5,"hi":1.5,"lo":-1.5},{"t":9.54,"hi":0.6,"lo":-0.6},{"t":9.76,"hi":0.6,"lo":-0.6},{"t":9.8,"hi":2,"lo":-2},{"t":9.84,"hi":0.6,"lo":-0.6},{"t":9.96,"hi":0.6,"lo":-0.6},{"t":10.0,"hi":2.5,"lo":-2.5},{"t":10.04,"hi":0.6,"lo":-0.6},{"t":10.16,"hi":0.6,"lo":-0.6},{"t":10.2,"hi":1.5,"lo":-1.5},{"t":10.24,"hi":0.6,"lo":-0.6},{"t":10.46,"hi":0.6,"lo":-0.6},{"t":10.5,"hi":2,"lo":-2},{"t":10.54,"hi":0.6,"lo":-0.6},{"t":10.76,"hi":0.6,"lo":-0.6},{"t":10.8,"hi":1.5,"lo":-1.5},{"t":10.84,"hi":0.6,"lo":-0.6},{"t":10.96,"hi":0.6,"lo":-0.6},{"t":11.0,"hi":2.5,"lo":-2.5},{"t":11.04,"hi":0.6,"lo":-0.6},{"t":11.26,"hi":0.6,"lo":-0.6},{"t":11.3,"hi":1.5,"lo":-1.5},{"t":11.34,"hi":0.6,"lo":-0.6},{"t":11.56,"hi":0.6,"lo":-0.6},{"t":11.6,"hi":2,"lo":-2},{"t":11.64,"hi":0.6,"lo":-0.6},{"t":11.86,"hi":0.6,"lo":-0.6},{"t":11.9,"hi":1.5,"lo":-1.5},{"t":11.94,"hi":0.6,"lo":-0.6},{"t":12.16,"hi":0.6,"lo":-0.6},{"t":12.2,"hi":2.5,"lo":-2.5},{"t":12.24,"hi":0.6,"lo":-0.6},{"t":12.46,"hi":0.6,"lo":-0.6},{"t":12.5,"hi":1.5,"lo":-1.5},{"t":12.54,"hi":0.6,"lo":-0.6},{"t":12.76,"hi":0.6,"lo":-0.6},{"t":12.8,"hi":2,"lo":-2},{"t":12.84,"hi":0.6,"lo":-0.6},{"t":13.06,"hi":0.6,"lo":-0.6},{"t":13.1,"hi":1.5,"lo":-1.5},{"t":13.14,"hi":0.5,"lo":-0.5},{"t":15.08,"hi":0.5,"lo":-0.5},{"t":15.12,"hi":2,"lo":-2},{"t":15.16,"hi":0.8,"lo":-0.8},{"t":15.2,"hi":1.5,"lo":-1.5},{"t":15.24,"hi":0.8,"lo":-0.8},{"t":15.28,"hi":2,"lo":-2},{"t":15.32,"hi":0.5,"lo":-0.5},{"t":15.68,"hi":0.5,"lo":-0.5},{"t":15.72,"hi":3,"lo":-3},{"t":15.75,"hi":5,"lo":-5},{"t":15.78,"hi":3,"lo":-3},{"t":15.82,"hi":0.5,"lo":-0.5},{"t":16.76,"hi":0.5,"lo":-0.5},{"t":16.8,"hi":1.2,"lo":-1.2},{"t":16.84,"hi":0.5,"lo":-0.5},{"t":17.16,"hi":0.5,"lo":-0.5},{"t":17.2,"hi":1.2,"lo":-1.2},{"t":17.24,"hi":0.5,"lo":-0.5},{"t":17.6,"hi":0.5,"lo":-0.5}],
"imf4":[{"t":-0.32,"hi":0.5,"lo":-0.5},{"t":0.81,"hi":0.5,"lo":-0.5},{"t":0.85,"hi":1.5,"lo":-1.5},{"t":0.89,"hi":0.5,"lo":-0.5},{"t":1.65,"hi":0.5,"lo":-0.5},{"t":1.69,"hi":1.5,"lo":-1.5},{"t":1.73,"hi":0.5,"lo":-0.5},{"t":2.47,"hi":0.5,"lo":-0.5},{"t":2.52,"hi":2,"lo":-2},{"t":2.57,"hi":0.5,"lo":-0.5},{"t":2.9,"hi":0.5,"lo":-0.5},{"t":2.94,"hi":2.5,"lo":-2.5},{"t":2.98,"hi":1,"lo":-1},{"t":3.02,"hi":2.5,"lo":-2.5},{"t":3.06,"hi":1,"lo":-1},{"t":3.1,"hi":2.5,"lo":-2.5},{"t":3.15,"hi":0.5,"lo":-0.5},{"t":3.72,"hi":0.5,"lo":-0.5},{"t":3.77,"hi":3,"lo":-3},{"t":3.82,"hi":1,"lo":-1},{"t":3.87,"hi":1,"lo":-1},{"t":3.9,"hi":4,"lo":-4},{"t":3.93,"hi":2,"lo":-2},{"t":3.96,"hi":6,"lo":-6},{"t":3.99,"hi":3,"lo":-3},{"t":4.02,"hi":7,"lo":-7},{"t":4.05,"hi":4,"lo":-4},{"t":4.08,"hi":8,"lo":-8},{"t":4.11,"hi":5,"lo":-5},{"t":4.14,"hi":8,"lo":-8},{"t":4.17,"hi":4,"lo":-4},{"t":4.2,"hi":8,"lo":-8},{"t":4.23,"hi":5,"lo":-5},{"t":4.27,"hi":30,"lo":-30},{"t":4.3,"hi":6,"lo":-6},{"t":4.33,"hi":10,"lo":-10},{"t":4.36,"hi":6,"lo":-6},{"t":4.38,"hi":15,"lo":-14},{"t":4.41,"hi":6,"lo":-6},{"t":4.44,"hi":9,"lo":-9},{"t":4.47,"hi":5,"lo":-5},{"t":4.5,"hi":10,"lo":-10},{"t":4.52,"hi":30,"lo":-30},{"t":4.55,"hi":8,"lo":-8},{"t":4.58,"hi":5,"lo":-5},{"t":4.61,"hi":6,"lo":-6},{"t":4.64,"hi":3,"lo":-3},{"t":4.67,"hi":5,"lo":-5},{"t":4.7,"hi":3,"lo":-3},{"t":4.74,"hi":5,"lo":-5},{"t":4.78,"hi":3,"lo":-3},{"t":4.82,"hi":4,"lo":-4},{"t":4.86,"hi":2.5,"lo":-2.5},{"t":4.9,"hi":4,"lo":-4},{"t":4.95,"hi":2.5,"lo":-2.5},{"t":5.0,"hi":4,"lo":-4},{"t":5.05,"hi":2,"lo":-2},{"t":5.1,"hi":3,"lo":-3},{"t":5.15,"hi":2,"lo":-2},{"t":5.2,"hi":3.5,"lo":-3.5},{"t":5.25,"hi":2,"lo":-2},{"t":5.3,"hi":4,"lo":-4},{"t":5.35,"hi":2,"lo":-2},{"t":5.4,"hi":3,"lo":-3},{"t":5.45,"hi":2,"lo":-2},{"t":5.5,"hi":3,"lo":-3},{"t":5.55,"hi":2,"lo":-2},{"t":5.6,"hi":5,"lo":-5},{"t":5.65,"hi":15,"lo":-13},{"t":5.7,"hi":5,"lo":-5},{"t":5.74,"hi":2,"lo":-2},{"t":5.8,"hi":1,"lo":-1},{"t":6.1,"hi":0.6,"lo":-0.6},{"t":6.17,"hi":4,"lo":-4},{"t":6.24,"hi":0.6,"lo":-0.6},{"t":6.62,"hi":1,"lo":-1},{"t":6.66,"hi":4,"lo":-4},{"t":6.69,"hi":6,"lo":-6},{"t":6.73,"hi":4,"lo":-4},{"t":6.78,"hi":1,"lo":-1},{"t":7.05,"hi":0.6,"lo":-0.6},{"t":7.1,"hi":5,"lo":-5},{"t":7.15,"hi":0.6,"lo":-0.6},{"t":7.6,"hi":1,"lo":-1},{"t":7.64,"hi":6,"lo":-6},{"t":7.69,"hi":10,"lo":-10},{"t":7.74,"hi":6,"lo":-6},{"t":7.78,"hi":1,"lo":-1},{"t":7.85,"hi":0.6,"lo":-0.6},{"t":8.88,"hi":1,"lo":-1},{"t":8.92,"hi":4,"lo":-4},{"t":8.96,"hi":7,"lo":-7},{"t":9.0,"hi":4,"lo":-4},{"t":9.05,"hi":1.5,"lo":-1.5},{"t":9.1,"hi":0.6,"lo":-0.6},{"t":9.45,"hi":0.6,"lo":-0.6},{"t":9.5,"hi":2,"lo":-2},{"t":9.55,"hi":0.6,"lo":-0.6},{"t":10.52,"hi":1,"lo":-1},{"t":10.56,"hi":5,"lo":-5},{"t":10.6,"hi":8.5,"lo":-8.5},{"t":10.64,"hi":5,"lo":-5},{"t":10.68,"hi":1,"lo":-1},{"t":11.22,"hi":1,"lo":-1},{"t":11.26,"hi":4,"lo":-4},{"t":11.3,"hi":6,"lo":-6},{"t":11.35,"hi":4,"lo":-4},{"t":11.4,"hi":5,"lo":-5},{"t":11.45,"hi":1,"lo":-1},{"t":11.5,"hi":0.6,"lo":-0.6},{"t":12.76,"hi":0.6,"lo":-0.6},{"t":12.8,"hi":1.5,"lo":-1.5},{"t":12.84,"hi":0.6,"lo":-0.6},{"t":12.96,"hi":0.6,"lo":-0.6},{"t":13.0,"hi":1.5,"lo":-1.5},{"t":13.04,"hi":0.6,"lo":-0.6},{"t":13.64,"hi":0.6,"lo":-0.6},{"t":13.67,"hi":5,"lo":-5},{"t":13.71,"hi":9,"lo":-9},{"t":13.75,"hi":5,"lo":-5},{"t":13.78,"hi":0.6,"lo":-0.6},{"t":17.6,"hi":0.6,"lo":-0.6}],
"imf5":[{"t":-0.32,"hi":0.8,"lo":-0.8},{"t":-0.05,"hi":0.8,"lo":-0.8},{"t":0.0,"hi":1.5,"lo":-1.5},{"t":0.05,"hi":0.8,"lo":-0.8},{"t":0.15,"hi":0.8,"lo":-0.8},{"t":0.2,"hi":1.8,"lo":-1.8},{"t":0.25,"hi":0.8,"lo":-0.8},{"t":1.64,"hi":0.8,"lo":-0.8},{"t":1.69,"hi":2,"lo":-2},{"t":1.75,"hi":0.8,"lo":-0.8},{"t":2.9,"hi":1,"lo":-1},{"t":2.95,"hi":2.5,"lo":-2.5},{"t":3.0,"hi":1.5,"lo":-1.5},{"t":3.05,"hi":3,"lo":-3},{"t":3.1,"hi":1.5,"lo":-1.5},{"t":3.15,"hi":3,"lo":-3},{"t":3.2,"hi":1.5,"lo":-1.5},{"t":3.25,"hi":3,"lo":-3},{"t":3.3,"hi":1.5,"lo":-1.5},{"t":3.35,"hi":3,"lo":-3},{"t":3.4,"hi":1.5,"lo":-1.5},{"t":3.45,"hi":3,"lo":-3},{"t":3.5,"hi":1.5,"lo":-1.5},{"t":3.55,"hi":3,"lo":-3},{"t":3.6,"hi":1.5,"lo":-1.5},{"t":3.65,"hi":2.5,"lo":-2.5},{"t":3.7,"hi":1,"lo":-1},{"t":3.8,"hi":1,"lo":-1},{"t":3.88,"hi":3,"lo":-3},{"t":3.91,"hi":5,"lo":-5},{"t":3.94,"hi":3.5,"lo":-3.5},{"t":3.97,"hi":6,"lo":-6},{"t":4.0,"hi":4,"lo":-4},{"t":4.03,"hi":7,"lo":-7},{"t":4.06,"hi":5,"lo":-5},{"t":4.09,"hi":8,"lo":-8},{"t":4.12,"hi":5,"lo":-5},{"t":4.15,"hi":8,"lo":-8},{"t":4.18,"hi":6,"lo":-6},{"t":4.21,"hi":9,"lo":-9},{"t":4.24,"hi":6,"lo":-6},{"t":4.27,"hi":8,"lo":-8},{"t":4.3,"hi":6,"lo":-6},{"t":4.33,"hi":9,"lo":-9},{"t":4.36,"hi":6,"lo":-6},{"t":4.39,"hi":8,"lo":-8},{"t":4.42,"hi":5,"lo":-5},{"t":4.45,"hi":7,"lo":-7},{"t":4.48,"hi":5,"lo":-5},{"t":4.51,"hi":7,"lo":-7},{"t":4.54,"hi":5,"lo":-5},{"t":4.57,"hi":8,"lo":-8},{"t":4.6,"hi":10,"lo":-10},{"t":4.63,"hi":6,"lo":-6},{"t":4.67,"hi":26,"lo":-28},{"t":4.7,"hi":10,"lo":-10},{"t":4.72,"hi":12,"lo":-14},{"t":4.75,"hi":9,"lo":-9},{"t":4.77,"hi":26,"lo":-24},{"t":4.8,"hi":8,"lo":-8},{"t":4.83,"hi":5,"lo":-5},{"t":4.86,"hi":6,"lo":-6},{"t":4.9,"hi":4,"lo":-4},{"t":4.94,"hi":5,"lo":-5},{"t":4.98,"hi":3,"lo":-3},{"t":5.02,"hi":4.5,"lo":-4.5},{"t":5.06,"hi":3,"lo":-3},{"t":5.1,"hi":4,"lo":-4},{"t":5.14,"hi":2.5,"lo":-2.5},{"t":5.18,"hi":4,"lo":-4},{"t":5.22,"hi":2.5,"lo":-2.5},{"t":5.26,"hi":4,"lo":-4},{"t":5.3,"hi":2.5,"lo":-2.5},{"t":5.34,"hi":4,"lo":-4},{"t":5.38,"hi":2.5,"lo":-2.5},{"t":5.42,"hi":4,"lo":-4},{"t":5.46,"hi":3,"lo":-3},{"t":5.5,"hi":4,"lo":-4},{"t":5.55,"hi":6,"lo":-6},{"t":5.6,"hi":10,"lo":-10},{"t":5.65,"hi":6,"lo":-6},{"t":5.7,"hi":4,"lo":-4},{"t":5.75,"hi":2,"lo":-2},{"t":5.8,"hi":3,"lo":-3},{"t":5.85,"hi":1.5,"lo":-1.5},{"t":6.0,"hi":1,"lo":-1},{"t":6.15,"hi":1,"lo":-1},{"t":6.2,"hi":2.5,"lo":-2.5},{"t":6.25,"hi":1,"lo":-1},{"t":6.4,"hi":1,"lo":-1},{"t":6.45,"hi":2.5,"lo":-2.5},{"t":6.5,"hi":1,"lo":-1},{"t":6.65,"hi":1,"lo":-1},{"t":6.7,"hi":2,"lo":-2},{"t":6.75,"hi":1,"lo":-1},{"t":7.35,"hi":1,"lo":-1},{"t":7.4,"hi":3,"lo":-3},{"t":7.45,"hi":1.5,"lo":-1.5},{"t":7.5,"hi":3,"lo":-3},{"t":7.55,"hi":1,"lo":-1},{"t":7.9,"hi":1,"lo":-1},{"t":7.95,"hi":3,"lo":-3},{"t":8.0,"hi":1.5,"lo":-1.5},{"t":8.05,"hi":3,"lo":-3},{"t":8.1,"hi":1,"lo":-1},{"t":8.92,"hi":1,"lo":-1},{"t":8.98,"hi":2.5,"lo":-2.5},{"t":9.04,"hi":1,"lo":-1},{"t":9.8,"hi":1,"lo":-1},{"t":9.85,"hi":2,"lo":-2},{"t":9.9,"hi":1,"lo":-1},{"t":10.5,"hi":1,"lo":-1},{"t":10.55,"hi":3,"lo":-3},{"t":10.6,"hi":4,"lo":-4},{"t":10.65,"hi":3,"lo":-3},{"t":10.7,"hi":1,"lo":-1},{"t":11.45,"hi":1,"lo":-1},{"t":11.5,"hi":2,"lo":-2},{"t":11.55,"hi":1,"lo":-1},{"t":12.36,"hi":1,"lo":-1},{"t":12.42,"hi":3,"lo":-3},{"t":12.48,"hi":1,"lo":-1},{"t":13.29,"hi":1,"lo":-1},{"t":13.35,"hi":3,"lo":-3},{"t":13.41,"hi":1,"lo":-1},{"t":14.35,"hi":1,"lo":-1},{"t":14.4,"hi":2.5,"lo":-2.5},{"t":14.45,"hi":1.2,"lo":-1.2},{"t":14.55,"hi":2.5,"lo":-2.5},{"t":14.6,"hi":1,"lo":-1},{"t":15.7,"hi":1,"lo":-1},{"t":15.75,"hi":2,"lo":-2},{"t":15.8,"hi":1,"lo":-1},{"t":17.6,"hi":1,"lo":-1}],
"imf6":[{"t":-0.32,"hi":1,"lo":-1},{"t":0.05,"hi":1,"lo":-1},{"t":0.1,"hi":1.5,"lo":-1.5},{"t":0.15,"hi":0.8,"lo":-0.8},{"t":0.25,"hi":0.8,"lo":-0.8},{"t":0.3,"hi":2,"lo":-2},{"t":0.35,"hi":0.8,"lo":-0.8},{"t":0.55,"hi":0.8,"lo":-0.8},{"t":0.6,"hi":1.5,"lo":-1.5},{"t":0.65,"hi":0.8,"lo":-0.8},{"t":0.95,"hi":0.8,"lo":-0.8},{"t":1.0,"hi":2,"lo":-2},{"t":1.05,"hi":0.8,"lo":-0.8},{"t":1.35,"hi":0.8,"lo":-0.8},{"t":1.4,"hi":1.5,"lo":-1.5},{"t":1.45,"hi":0.8,"lo":-0.8},{"t":1.75,"hi":0.8,"lo":-0.8},{"t":1.8,"hi":2.5,"lo":-2.5},{"t":1.85,"hi":0.8,"lo":-0.8},{"t":2.15,"hi":0.8,"lo":-0.8},{"t":2.2,"hi":1.5,"lo":-1.5},{"t":2.25,"hi":0.8,"lo":-0.8},{"t":2.55,"hi":0.8,"lo":-0.8},{"t":2.6,"hi":2,"lo":-2},{"t":2.65,"hi":0.8,"lo":-0.8},{"t":2.95,"hi":0.8,"lo":-0.8},{"t":3.0,"hi":1.5,"lo":-1.5},{"t":3.05,"hi":0.8,"lo":-0.8},{"t":3.25,"hi":0.8,"lo":-0.8},{"t":3.3,"hi":2.5,"lo":-2.5},{"t":3.35,"hi":1,"lo":-1},{"t":3.45,"hi":2.5,"lo":-2.5},{"t":3.5,"hi":0.8,"lo":-0.8},{"t":3.8,"hi":1.5,"lo":-1.5},{"t":3.88,"hi":4,"lo":-4},{"t":3.92,"hi":7,"lo":-7},{"t":3.96,"hi":5,"lo":-5},{"t":4.0,"hi":9,"lo":-9},{"t":4.04,"hi":7,"lo":-7},{"t":4.08,"hi":11,"lo":-11},{"t":4.12,"hi":9,"lo":-9},{"t":4.16,"hi":13,"lo":-13},{"t":4.2,"hi":10,"lo":-10},{"t":4.25,"hi":14,"lo":-14},{"t":4.3,"hi":11,"lo":-11},{"t":4.35,"hi":12,"lo":-12},{"t":4.4,"hi":9,"lo":-9},{"t":4.45,"hi":10,"lo":-10},{"t":4.5,"hi":7,"lo":-7},{"t":4.55,"hi":8,"lo":-8},{"t":4.6,"hi":6,"lo":-6},{"t":4.64,"hi":8,"lo":-8},{"t":4.67,"hi":24,"lo":-26},{"t":4.7,"hi":10,"lo":-10},{"t":4.74,"hi":6,"lo":-6},{"t":4.78,"hi":8,"lo":-8},{"t":4.82,"hi":4,"lo":-4},{"t":4.86,"hi":6,"lo":-6},{"t":4.9,"hi":3,"lo":-3},{"t":4.95,"hi":5,"lo":-5},{"t":5.0,"hi":3,"lo":-3},{"t":5.05,"hi":5,"lo":-5},{"t":5.1,"hi":3,"lo":-3},{"t":5.15,"hi":4.5,"lo":-4.5},{"t":5.2,"hi":2.5,"lo":-2.5},{"t":5.25,"hi":4,"lo":-4},{"t":5.3,"hi":2.5,"lo":-2.5},{"t":5.35,"hi":4,"lo":-4},{"t":5.4,"hi":2.5,"lo":-2.5},{"t":5.45,"hi":4,"lo":-4},{"t":5.5,"hi":2.5,"lo":-2.5},{"t":5.55,"hi":4,"lo":-4},{"t":5.6,"hi":2.5,"lo":-2.5},{"t":5.65,"hi":4,"lo":-4},{"t":5.7,"hi":2,"lo":-2},{"t":5.75,"hi":3.5,"lo":-3.5},{"t":5.8,"hi":2,"lo":-2},{"t":5.85,"hi":3.5,"lo":-3.5},{"t":5.9,"hi":2,"lo":-2},{"t":5.95,"hi":3,"lo":-3},{"t":6.0,"hi":2,"lo":-2},{"t":6.05,"hi":3,"lo":-3},{"t":6.1,"hi":1.5,"lo":-1.5},{"t":6.2,"hi":2.5,"lo":-2.5},{"t":6.3,"hi":1.5,"lo":-1.5},{"t":6.4,"hi":2.5,"lo":-2.5},{"t":6.5,"hi":1.5,"lo":-1.5},{"t":6.6,"hi":3,"lo":-3},{"t":6.7,"hi":1.5,"lo":-1.5},{"t":6.8,"hi":3,"lo":-3},{"t":6.9,"hi":1.5,"lo":-1.5},{"t":7.0,"hi":3.5,"lo":-3.5},{"t":7.1,"hi":2,"lo":-2},{"t":7.2,"hi":4,"lo":-4},{"t":7.3,"hi":2,"lo":-2},{"t":7.4,"hi":4,"lo":-4},{"t":7.45,"hi":6,"lo":-6},{"t":7.5,"hi":10,"lo":-12},{"t":7.55,"hi":6,"lo":-6},{"t":7.6,"hi":7,"lo":-9},{"t":7.65,"hi":5,"lo":-5},{"t":7.7,"hi":6,"lo":-6},{"t":7.75,"hi":3,"lo":-3},{"t":7.8,"hi":4,"lo":-4},{"t":7.85,"hi":2,"lo":-2},{"t":7.9,"hi":3,"lo":-3},{"t":8.0,"hi":2,"lo":-2},{"t":8.1,"hi":3,"lo":-3},{"t":8.2,"hi":1.5,"lo":-1.5},{"t":8.3,"hi":3,"lo":-3},{"t":8.4,"hi":1.5,"lo":-1.5},{"t":8.6,"hi":2,"lo":-2},{"t":8.7,"hi":1,"lo":-1},{"t":8.9,"hi":2,"lo":-2},{"t":8.98,"hi":4,"lo":-4},{"t":9.05,"hi":1.5,"lo":-1.5},{"t":9.25,"hi":1,"lo":-1},{"t":9.3,"hi":2,"lo":-2},{"t":9.35,"hi":1,"lo":-1},{"t":9.55,"hi":1,"lo":-1},{"t":9.6,"hi":2.5,"lo":-2.5},{"t":9.65,"hi":1,"lo":-1},{"t":9.75,"hi":1,"lo":-1},{"t":9.8,"hi":3,"lo":-3},{"t":9.85,"hi":1,"lo":-1},{"t":10.05,"hi":1,"lo":-1},{"t":10.1,"hi":2,"lo":-2},{"t":10.15,"hi":1,"lo":-1},{"t":10.5,"hi":1,"lo":-1},{"t":10.55,"hi":3,"lo":-3},{"t":10.6,"hi":5,"lo":-5},{"t":10.65,"hi":6,"lo":-6},{"t":10.7,"hi":4,"lo":-4},{"t":10.75,"hi":1.5,"lo":-1.5},{"t":11.1,"hi":1,"lo":-1},{"t":11.15,"hi":2,"lo":-2},{"t":11.2,"hi":5,"lo":-5},{"t":11.26,"hi":7,"lo":-8},{"t":11.32,"hi":5,"lo":-5},{"t":11.38,"hi":3,"lo":-3},{"t":11.45,"hi":1.5,"lo":-1.5},{"t":11.8,"hi":1,"lo":-1},{"t":11.85,"hi":2,"lo":-2},{"t":11.9,"hi":1,"lo":-1},{"t":12.3,"hi":1,"lo":-1},{"t":12.4,"hi":3,"lo":-3},{"t":12.5,"hi":1,"lo":-1},{"t":12.8,"hi":1,"lo":-1},{"t":12.85,"hi":2,"lo":-2},{"t":12.9,"hi":1,"lo":-1},{"t":13.3,"hi":1,"lo":-1},{"t":13.4,"hi":2.5,"lo":-2.5},{"t":13.5,"hi":1,"lo":-1},{"t":14.0,"hi":1,"lo":-1},{"t":14.05,"hi":2,"lo":-2},{"t":14.1,"hi":1,"lo":-1},{"t":14.9,"hi":1,"lo":-1},{"t":14.95,"hi":2,"lo":-2},{"t":15.0,"hi":1,"lo":-1},{"t":15.6,"hi":1.5,"lo":-1.5},{"t":15.7,"hi":4,"lo":-4},{"t":15.79,"hi":8,"lo":-8},{"t":15.88,"hi":4,"lo":-4},{"t":15.95,"hi":1.5,"lo":-1.5},{"t":16.3,"hi":1.2,"lo":-1.2},{"t":17.6,"hi":1.2,"lo":-1.2}],
"imf7":[{"t":-0.32,"v":0},{"t":-0.2,"v":0.8},{"t":-0.1,"v":-0.8},{"t":0.0,"v":0.6},{"t":0.04,"v":-2},{"t":0.07,"v":3},{"t":0.1,"v":-3.5},{"t":0.13,"v":3.4},{"t":0.16,"v":-3.8},{"t":0.19,"v":2.5},{"t":0.22,"v":-2.5},{"t":0.25,"v":1.5},{"t":0.3,"v":-0.8},{"t":0.37,"v":1},{"t":0.44,"v":-0.8},{"t":0.5,"v":0.8},{"t":0.53,"v":-2},{"t":0.56,"v":2},{"t":0.59,"v":-1.5},{"t":0.66,"v":0.8},{"t":0.74,"v":-0.8},{"t":0.82,"v":0.8},{"t":0.9,"v":-0.8},{"t":0.98,"v":0.8},{"t":1.06,"v":-0.8},{"t":1.13,"v":0.8},{"t":1.18,"v":-1.5},{"t":1.22,"v":2},{"t":1.26,"v":-2},{"t":1.3,"v":2},{"t":1.34,"v":-1.5},{"t":1.42,"v":0.6},{"t":1.5,"v":-0.6},{"t":1.58,"v":0.6},{"t":1.63,"v":-2},{"t":1.66,"v":3},{"t":1.69,"v":-3},{"t":1.72,"v":2.5},{"t":1.75,"v":-2},{"t":1.82,"v":0.8},{"t":1.9,"v":-0.8},{"t":1.98,"v":0.8},{"t":2.05,"v":-0.8},{"t":2.12,"v":2},{"t":2.16,"v":-2.5},{"t":2.2,"v":3},{"t":2.24,"v":-3},{"t":2.28,"v":3},{"t":2.32,"v":-3},{"t":2.36,"v":3},{"t":2.4,"v":-3},{"t":2.44,"v":2.5},{"t":2.48,"v":-2},{"t":2.52,"v":1.5},{"t":2.58,"v":-0.8},{"t":2.65,"v":0.8},{"t":2.72,"v":-0.8},{"t":2.78,"v":2},{"t":2.82,"v":-3},{"t":2.86,"v":5},{"t":2.91,"v":-5.5},{"t":2.96,"v":6.5},{"t":3.01,"v":-5.8},{"t":3.06,"v":5},{"t":3.1,"v":-4},{"t":3.15,"v":2.5},{"t":3.2,"v":-2},{"t":3.25,"v":2},{"t":3.3,"v":-2},{"t":3.35,"v":1.5},{"t":3.4,"v":-1.5},{"t":3.45,"v":1.5},{"t":3.5,"v":-1},{"t":3.6,"v":0.3},{"t":3.7,"v":-0.3},{"t":3.8,"v":0.3},{"t":3.86,"v":-2},{"t":3.89,"v":4},{"t":3.92,"v":-4},{"t":3.95,"v":4},{"t":3.98,"v":-4},{"t":4.02,"v":8.8},{"t":4.06,"v":-9.7},{"t":4.1,"v":8},{"t":4.14,"v":-8},{"t":4.18,"v":7},{"t":4.22,"v":-8},{"t":4.26,"v":11},{"t":4.29,"v":-12},{"t":4.32,"v":12},{"t":4.35,"v":-11},{"t":4.38,"v":10},{"t":4.41,"v":-12},{"t":4.44,"v":11},{"t":4.47,"v":-10},{"t":4.5,"v":9},{"t":4.53,"v":-12},{"t":4.56,"v":10},{"t":4.58,"v":-8},{"t":4.61,"v":19.5},{"t":4.64,"v":-28},{"t":4.68,"v":30},{"t":4.74,"v":-30},{"t":4.81,"v":26},{"t":4.88,"v":-14},{"t":4.93,"v":4},{"t":4.97,"v":-4},{"t":5.01,"v":4},{"t":5.05,"v":-4},{"t":5.09,"v":4},{"t":5.13,"v":-4},{"t":5.17,"v":4},{"t":5.21,"v":-4},{"t":5.25,"v":4},{"t":5.29,"v":-4},{"t":5.33,"v":3},{"t":5.38,"v":-6},{"t":5.43,"v":11},{"t":5.48,"v":-9},{"t":5.53,"v":6},{"t":5.57,"v":-7},{"t":5.61,"v":11},{"t":5.66,"v":-12},{"t":5.7,"v":6},{"t":5.75,"v":-3},{"t":5.8,"v":3},{"t":5.85,"v":-3},{"t":5.9,"v":2.5},{"t":5.96,"v":-4},{"t":6.01,"v":4.5},{"t":6.06,"v":-4.5},{"t":6.11,"v":4},{"t":6.16,"v":-4},{"t":6.21,"v":3},{"t":6.28,"v":-1.5},{"t":6.35,"v":1.5},{"t":6.42,"v":-1.5},{"t":6.5,"v":1},{"t":6.56,"v":-3},{"t":6.61,"v":3},{"t":6.66,"v":-3},{"t":6.71,"v":3},{"t":6.76,"v":-3},{"t":6.81,"v":2.5},{"t":6.87,"v":-3},{"t":6.93,"v":4},{"t":6.99,"v":-4},{"t":7.05,"v":5},{"t":7.11,"v":-4.3},{"t":7.17,"v":4.5},{"t":7.23,"v":-4},{"t":7.29,"v":4},{"t":7.35,"v":-3.5},{"t":7.41,"v":3},{"t":7.47,"v":-4},{"t":7.52,"v":5},{"t":7.57,"v":-5},{"t":7.62,"v":6.5},{"t":7.67,"v":-6},{"t":7.72,"v":5},{"t":7.77,"v":-5},{"t":7.82,"v":4},{"t":7.87,"v":-3},{"t":7.93,"v":2},{"t":7.99,"v":-2},{"t":8.05,"v":2},{"t":8.11,"v":-2},{"t":8.17,"v":1.5},{"t":8.22,"v":-1},{"t":8.3,"v":3},{"t":8.38,"v":-2},{"t":8.44,"v":2.5},{"t":8.5,"v":-1.5},{"t":8.58,"v":1},{"t":8.66,"v":-1.5},{"t":8.72,"v":1.5},{"t":8.78,"v":-1.5},{"t":8.84,"v":1.5},{"t":8.9,"v":-3},{"t":8.93,"v":14},{"t":8.96,"v":-13},{"t":8.99,"v":6},{"t":9.02,"v":-4},{"t":9.08,"v":2.5},{"t":9.15,"v":-2.5},{"t":9.22,"v":2.5},{"t":9.29,"v":-2.5},{"t":9.36,"v":2.5},{"t":9.43,"v":-2.5},{"t":9.5,"v":2.5},{"t":9.57,"v":-2.5},{"t":9.62,"v":3},{"t":9.67,"v":-4},{"t":9.72,"v":5},{"t":9.77,"v":-8},{"t":9.82,"v":8},{"t":9.87,"v":-6},{"t":9.92,"v":5},{"t":9.98,"v":-4},{"t":10.04,"v":4},{"t":10.1,"v":-4},{"t":10.16,"v":4},{"t":10.22,"v":-3.5},{"t":10.28,"v":3.5},{"t":10.34,"v":-3.5},{"t":10.4,"v":3.5},{"t":10.46,"v":-3.5},{"t":10.52,"v":4},{"t":10.58,"v":-4},{"t":10.64,"v":5},{"t":10.7,"v":-4},{"t":10.76,"v":4},{"t":10.82,"v":-3.5},{"t":10.88,"v":3.5},{"t":10.94,"v":-3},{"t":11.01,"v":3},{"t":11.08,"v":-3},{"t":11.15,"v":3},{"t":11.22,"v":-3},{"t":11.29,"v":3.5},{"t":11.36,"v":-3.5},{"t":11.43,"v":3},{"t":11.5,"v":-3},{"t":11.57,"v":2.5},{"t":11.64,"v":-2.5},{"t":11.71,"v":2.5},{"t":11.78,"v":-2.5},{"t":11.85,"v":3},{"t":11.92,"v":-3},{"t":11.99,"v":2.5},{"t":12.06,"v":-3},{"t":12.13,"v":3.5},{"t":12.2,"v":-3},{"t":12.27,"v":3},{"t":12.34,"v":-2.5},{"t":12.41,"v":2.5},{"t":12.48,"v":-2},{"t":12.55,"v":2},{"t":12.62,"v":-2.5},{"t":12.69,"v":2.5},{"t":12.76,"v":-2},{"t":12.83,"v":2.5},{"t":12.9,"v":-2.5},{"t":12.97,"v":2},{"t":13.04,"v":-2.5},{"t":13.11,"v":3},{"t":13.18,"v":-3},{"t":13.25,"v":3},{"t":13.32,"v":-3},{"t":13.39,"v":3},{"t":13.46,"v":-3},{"t":13.53,"v":3.5},{"t":13.58,"v":-5},{"t":13.62,"v":6},{"t":13.66,"v":-6},{"t":13.7,"v":4},{"t":13.75,"v":-3},{"t":13.82,"v":2.5},{"t":13.89,"v":-2.5},{"t":13.96,"v":2.5},{"t":14.03,"v":-2.5},{"t":14.1,"v":3},{"t":14.17,"v":-3},{"t":14.24,"v":2.5},{"t":14.31,"v":-2.5},{"t":14.38,"v":2.5},{"t":14.45,"v":-3},{"t":14.52,"v":3},{"t":14.59,"v":-2.5},{"t":14.66,"v":2.5},{"t":14.73,"v":-2},{"t":14.8,"v":2},{"t":14.87,"v":-2.5},{"t":14.94,"v":3},{"t":15.01,"v":-2.5},{"t":15.08,"v":2.5},{"t":15.15,"v":-2.5},{"t":15.22,"v":2.5},{"t":15.29,"v":-2.5},{"t":15.36,"v":2.5},{"t":15.43,"v":-2.5},{"t":15.5,"v":3},{"t":15.56,"v":-3},{"t":15.61,"v":4},{"t":15.66,"v":-5},{"t":15.7,"v":7},{"t":15.75,"v":-7},{"t":15.8,"v":6},{"t":15.85,"v":-5},{"t":15.9,"v":4},{"t":15.96,"v":-4},{"t":16.02,"v":4},{"t":16.08,"v":-4},{"t":16.14,"v":3.5},{"t":16.21,"v":-3.5},{"t":16.28,"v":3},{"t":16.35,"v":-3},{"t":16.42,"v":3},{"t":16.49,"v":-3},{"t":16.56,"v":2.5},{"t":16.63,"v":-2.5},{"t":16.7,"v":3},{"t":16.77,"v":-3},{"t":16.84,"v":3},{"t":16.91,"v":-3},{"t":16.98,"v":3.5},{"t":17.05,"v":-3.5},{"t":17.12,"v":3},{"t":17.19,"v":-3},{"t":17.26,"v":3},{"t":17.33,"v":-3},{"t":17.4,"v":2.5},{"t":17.47,"v":-2},{"t":17.54,"v":2},{"t":17.6,"v":0}],
"imf8":[{"t":-0.31,"v":0},{"t":-0.24,"v":-0.6},{"t":-0.11,"v":2.5},{"t":-0.04,"v":-4},{"t":0.085,"v":5.6},{"t":0.205,"v":-6.5},{"t":0.34,"v":4.7},{"t":0.47,"v":-3.7},{"t":0.7,"v":2.3},{"t":0.76,"v":-1.9},{"t":0.84,"v":2.8},{"t":0.9,"v":-2.6},{"t":1.07,"v":4.3},{"t":1.22,"v":-4.2},{"t":1.37,"v":1.2},{"t":1.45,"v":-1.1},{"t":1.52,"v":0.5},{"t":1.58,"v":-0.6},{"t":1.61,"v":2},{"t":1.64,"v":-3.4},{"t":1.68,"v":4.3},{"t":1.75,"v":-6.8},{"t":1.84,"v":8.2},{"t":1.97,"v":-9.6},{"t":2.09,"v":7.9},{"t":2.2,"v":-5.7},{"t":2.32,"v":3.6},{"t":2.44,"v":-2.6},{"t":2.5,"v":2},{"t":2.56,"v":-1.9},{"t":2.62,"v":2},{"t":2.69,"v":-3.7},{"t":2.82,"v":4.3},{"t":2.95,"v":-5.4},{"t":3.09,"v":5.9},{"t":3.23,"v":-5.4},{"t":3.4,"v":3.1},{"t":3.48,"v":-1.6},{"t":3.54,"v":0.8},{"t":3.6,"v":-0.6},{"t":3.77,"v":0.5},{"t":3.83,"v":2},{"t":3.86,"v":-1.9},{"t":3.9,"v":2.8},{"t":3.93,"v":-3.1},{"t":3.97,"v":3.2},{"t":4.01,"v":-2.6},{"t":4.06,"v":2.5},{"t":4.11,"v":-3.4},{"t":4.17,"v":3.2},{"t":4.23,"v":-3.7},{"t":4.31,"v":8.2},{"t":4.37,"v":-12.7},{"t":4.44,"v":16.7},{"t":4.51,"v":-19.4},{"t":4.57,"v":20.6},{"t":4.63,"v":-21.7},{"t":4.69,"v":20.6},{"t":4.77,"v":-18.9},{"t":4.86,"v":15.2},{"t":4.97,"v":-12.7},{"t":5.05,"v":9.3},{"t":5.14,"v":-9.6},{"t":5.22,"v":9.3},{"t":5.3,"v":-12.7},{"t":5.36,"v":17.5},{"t":5.45,"v":-17},{"t":5.52,"v":17.8},{"t":5.6,"v":-18.1},{"t":5.72,"v":14.9},{"t":5.81,"v":-11.5},{"t":5.9,"v":7.4},{"t":5.98,"v":-5},{"t":6.05,"v":4.3},{"t":6.13,"v":-5},{"t":6.22,"v":5.9},{"t":6.3,"v":-5.7},{"t":6.4,"v":6.2},{"t":6.49,"v":-6.2},{"t":6.57,"v":6.2},{"t":6.67,"v":-4.2},{"t":6.76,"v":3.9},{"t":6.85,"v":-3.1},{"t":6.95,"v":2.8},{"t":7.04,"v":-3.4},{"t":7.16,"v":5.1},{"t":7.27,"v":-4.2},{"t":7.37,"v":2.8},{"t":7.48,"v":-2.6},{"t":7.61,"v":2},{"t":7.7,"v":-1.1},{"t":7.82,"v":3.6},{"t":7.92,"v":-4.7},{"t":8.05,"v":7.1},{"t":8.24,"v":-7.3},{"t":8.41,"v":4.3},{"t":8.55,"v":-1.6},{"t":8.68,"v":3},{"t":8.8,"v":-3},{"t":8.9,"v":2},{"t":8.95,"v":-12},{"t":9.02,"v":13},{"t":9.12,"v":-11},{"t":9.25,"v":9},{"t":9.38,"v":-8},{"t":9.5,"v":6},{"t":9.62,"v":-6},{"t":9.72,"v":9},{"t":9.85,"v":-12},{"t":9.97,"v":11},{"t":10.1,"v":-10},{"t":10.22,"v":7},{"t":10.35,"v":-5},{"t":10.47,"v":4},{"t":10.6,"v":-3},{"t":10.72,"v":3},{"t":10.85,"v":-3},{"t":10.975,"v":-2.3},{"t":11.08,"v":6.2},{"t":11.26,"v":-8.1},{"t":11.41,"v":7.3},{"t":11.53,"v":-4.3},{"t":11.62,"v":3.1},{"t":11.69,"v":-2.3},{"t":11.78,"v":2.8},{"t":11.93,"v":-6.2},{"t":12.09,"v":12.4},{"t":12.25,"v":-18.9},{"t":12.47,"v":24},{"t":12.69,"v":0},{"t":12.91,"v":-20.5},{"t":13.1,"v":14.7},{"t":13.27,"v":-8.1},{"t":13.4,"v":3.9},{"t":13.5,"v":-2.3},{"t":13.58,"v":2.3},{"t":13.66,"v":-2.8},{"t":13.76,"v":5.4},{"t":13.92,"v":-10},{"t":14.07,"v":14.7},{"t":14.23,"v":-17.4},{"t":14.39,"v":18.3},{"t":14.53,"v":-17.8},{"t":14.78,"v":15.2},{"t":14.95,"v":-12.7},{"t":15.09,"v":10.9},{"t":15.23,"v":-9},{"t":15.36,"v":7},{"t":15.46,"v":-5},{"t":15.52,"v":4.7},{"t":15.59,"v":-3.9},{"t":15.67,"v":4.7},{"t":15.77,"v":-5.4},{"t":15.86,"v":7.8},{"t":15.95,"v":-9.3},{"t":16.08,"v":11.6},{"t":16.21,"v":-11.6},{"t":16.39,"v":9.6},{"t":16.55,"v":-6.5},{"t":16.66,"v":4.3},{"t":16.75,"v":-3.9},{"t":16.82,"v":3.9},{"t":16.91,"v":-4.7},{"t":17.05,"v":6.2},{"t":17.19,"v":-8.1},{"t":17.37,"v":9.6},{"t":17.55,"v":-2}],
"imf9":[{"t":-0.31,"v":-0.6},{"t":-0.2,"v":1.4},{"t":-0.064,"v":-4.7},{"t":0.099,"v":7.6},{"t":0.272,"v":-7.8},{"t":0.47,"v":5.9},{"t":0.644,"v":-5.1},{"t":0.792,"v":4.9},{"t":0.926,"v":-7.8},{"t":1.089,"v":9.6},{"t":1.252,"v":-10.3},{"t":1.436,"v":8.6},{"t":1.599,"v":-6.8},{"t":1.718,"v":6.6},{"t":1.866,"v":-9.4},{"t":2.094,"v":11.7},{"t":2.302,"v":-11.5},{"t":2.5,"v":9},{"t":2.68,"v":-8},{"t":2.85,"v":7},{"t":3.0,"v":-6},{"t":3.15,"v":4},{"t":3.3,"v":-2},{"t":3.45,"v":1.5},{"t":3.6,"v":-1.5},{"t":3.75,"v":1},{"t":3.88,"v":-1},{"t":4.08,"v":17},{"t":4.33,"v":-25},{"t":4.5,"v":13},{"t":4.65,"v":-15},{"t":4.81,"v":12},{"t":4.98,"v":-12},{"t":5.125,"v":10},{"t":5.27,"v":-10},{"t":5.44,"v":8},{"t":5.6,"v":-10},{"t":5.77,"v":10},{"t":5.96,"v":-10},{"t":6.125,"v":8},{"t":6.27,"v":-8},{"t":6.44,"v":6},{"t":6.6,"v":-8},{"t":6.77,"v":6},{"t":6.94,"v":-6},{"t":7.1,"v":8},{"t":7.31,"v":-6},{"t":7.56,"v":18},{"t":7.79,"v":-19},{"t":7.98,"v":8},{"t":8.15,"v":-6},{"t":8.35,"v":6},{"t":8.52,"v":-4},{"t":8.77,"v":2},{"t":8.98,"v":-2},{"t":9.19,"v":2},{"t":9.4,"v":-2},{"t":9.6,"v":3},{"t":9.81,"v":-3},{"t":10.02,"v":15},{"t":10.21,"v":-16},{"t":10.375,"v":10},{"t":10.52,"v":-8},{"t":10.69,"v":9},{"t":10.8,"v":-8},{"t":10.9,"v":2},{"t":10.975,"v":-4.7},{"t":11.084,"v":9},{"t":11.263,"v":-11.3},{"t":11.43,"v":7.6},{"t":11.62,"v":-3.3},{"t":11.72,"v":1.4},{"t":11.83,"v":-1.6},{"t":12.056,"v":8.2},{"t":12.3,"v":-19},{"t":12.85,"v":38},{"t":13.28,"v":-40},{"t":13.53,"v":-14},{"t":13.725,"v":-2.7},{"t":14.02,"v":30},{"t":14.27,"v":-26},{"t":14.54,"v":23.4},{"t":14.79,"v":-21.7},{"t":15.04,"v":16.8},{"t":15.23,"v":-12.3},{"t":15.425,"v":7.6},{"t":15.56,"v":-5.7},{"t":15.72,"v":5.5},{"t":15.86,"v":-6.8},{"t":16.05,"v":8.2},{"t":16.22,"v":-8.2},{"t":16.41,"v":5.5},{"t":16.6,"v":-4.1},{"t":16.73,"v":4.5},{"t":16.87,"v":-6.2},{"t":17.05,"v":8.6},{"t":17.23,"v":-11.5},{"t":17.41,"v":11.7},{"t":17.55,"v":0}],
"imf10":[{"t":-0.31,"v":2.6},{"t":-0.17,"v":-3.3},{"t":0.074,"v":3.8},{"t":0.297,"v":-5.9},{"t":0.594,"v":6.9},{"t":0.842,"v":-7.7},{"t":1.089,"v":7.2},{"t":1.36,"v":-5.9},{"t":1.634,"v":2.6},{"t":1.866,"v":-2.6},{"t":2.08,"v":2.6},{"t":2.3,"v":-5.1},{"t":2.55,"v":4},{"t":2.8,"v":-4},{"t":3.05,"v":5},{"t":3.3,"v":-3},{"t":3.5,"v":4},{"t":3.65,"v":1},{"t":3.87,"v":-17},{"t":4.08,"v":32},{"t":4.33,"v":-38},{"t":4.58,"v":37},{"t":4.81,"v":-30},{"t":5.02,"v":18},{"t":5.23,"v":-15},{"t":5.48,"v":15},{"t":5.73,"v":-12},{"t":5.98,"v":12},{"t":6.21,"v":-8},{"t":6.48,"v":12},{"t":6.75,"v":-8},{"t":7.0,"v":2},{"t":7.31,"v":-18},{"t":7.77,"v":14},{"t":8.15,"v":-4},{"t":8.35,"v":2},{"t":8.67,"v":-2},{"t":8.98,"v":3},{"t":9.19,"v":-5},{"t":9.44,"v":7},{"t":9.65,"v":-8},{"t":9.92,"v":12},{"t":10.13,"v":-12},{"t":10.4,"v":12},{"t":10.65,"v":-10},{"t":10.85,"v":12},{"t":11.1,"v":-8},{"t":11.375,"v":8},{"t":11.65,"v":-6},{"t":11.9,"v":5},{"t":12.2,"v":-3},{"t":12.52,"v":4},{"t":12.8,"v":2},{"t":13.35,"v":10},{"t":14.1,"v":-20},{"t":14.81,"v":30},{"t":15.44,"v":-28},{"t":15.9,"v":20},{"t":16.27,"v":-12},{"t":16.65,"v":8},{"t":16.9,"v":-6},{"t":17.1,"v":6},{"t":17.3,"v":-8},{"t":17.55,"v":-2}],
"imf11":[{"t":-0.31,"v":-3.8},{"t":0.0,"v":5.1},{"t":0.37,"v":-7.7},{"t":0.84,"v":12.3},{"t":1.37,"v":-15.4},{"t":1.88,"v":15.4},{"t":2.35,"v":-12.5},{"t":2.94,"v":13},{"t":3.35,"v":-13},{"t":3.79,"v":29},{"t":4.19,"v":-44},{"t":4.69,"v":49},{"t":5.19,"v":-45},{"t":5.71,"v":30},{"t":6.17,"v":-12},{"t":6.58,"v":6},{"t":7.0,"v":-3},{"t":7.42,"v":2},{"t":7.79,"v":-3},{"t":8.31,"v":3},{"t":8.77,"v":-4},{"t":9.19,"v":6},{"t":9.6,"v":-4},{"t":10.02,"v":8},{"t":10.44,"v":-8},{"t":10.9,"v":12},{"t":11.375,"v":-12},{"t":11.9,"v":17},{"t":12.56,"v":-18},{"t":13.71,"v":18},{"t":14.77,"v":-18},{"t":15.81,"v":18},{"t":16.375,"v":-16},{"t":16.9,"v":10},{"t":17.31,"v":-4},{"t":17.55,"v":0}],
"imf12":[{"t":-0.31,"v":2},{"t":0.33,"v":-2},{"t":0.9,"v":-0.5},{"t":1.48,"v":0},{"t":2.1,"v":-2},{"t":2.94,"v":7},{"t":3.83,"v":-10},{"t":4.73,"v":15},{"t":5.79,"v":-19},{"t":6.7,"v":4},{"t":7.42,"v":16},{"t":8.3,"v":4},{"t":9.33,"v":-7},{"t":10.44,"v":2},{"t":11.27,"v":0},{"t":13.35,"v":0.5},{"t":15.02,"v":0},{"t":15.85,"v":-3},{"t":16.85,"v":5},{"t":17.55,"v":-1}],
"imf13":[{"t":-0.31,"v":0},{"t":0.2,"v":-2},{"t":0.65,"v":-3},{"t":1.3,"v":0},{"t":2.02,"v":6},{"t":2.7,"v":-2},{"t":3.31,"v":-12},{"t":4.1,"v":1},{"t":5.02,"v":15},{"t":6.2,"v":4},{"t":7.42,"v":-17},{"t":8.7,"v":-2},{"t":10.125,"v":13},{"t":11.9,"v":5},{"t":13.56,"v":-4},{"t":14.5,"v":-3},{"t":15.5,"v":0},{"t":16.3,"v":1},{"t":17.55,"v":0.5}],
"imf14":[{"t":-0.31,"v":-9},{"t":0.8,"v":-13},{"t":1.79,"v":-15},{"t":2.94,"v":-11},{"t":3.98,"v":-2},{"t":4.8,"v":8},{"t":5.65,"v":13.5},{"t":6.7,"v":10},{"t":7.9,"v":1},{"t":9.0,"v":-7},{"t":10.02,"v":-10},{"t":11.2,"v":-7},{"t":12.5,"v":-1},{"t":13.6,"v":4},{"t":15.44,"v":8.5},{"t":16.5,"v":7.5},{"t":17.55,"v":5}],
"res":[{"t":-0.31,"v":77.0},{"t":0.85,"v":77.3},{"t":1.9,"v":77.7},{"t":2.94,"v":78.2},{"t":3.98,"v":78.6},{"t":5.44,"v":78.9},{"t":6.69,"v":78.6},{"t":7.94,"v":77.8},{"t":9.19,"v":76.5},{"t":10.44,"v":74.8},{"t":11.69,"v":72.8},{"t":12.94,"v":70.6},{"t":14.19,"v":68.8},{"t":15.44,"v":67.4},{"t":16.2,"v":67.3},{"t":17.0,"v":67.9},{"t":17.55,"v":68.8}]
}
}
